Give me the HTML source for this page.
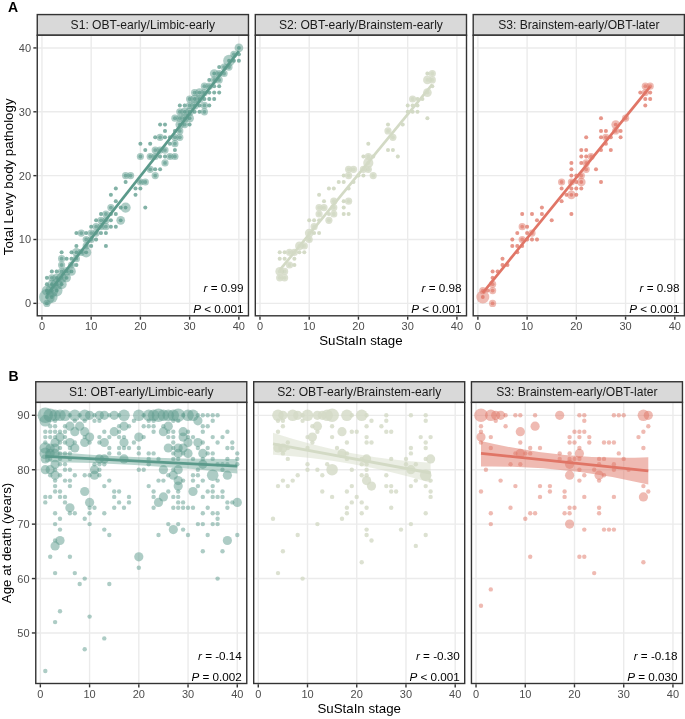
<!DOCTYPE html>
<html><head><meta charset="utf-8"><title>SuStaIn stage figure</title>
<style>html,body{margin:0;padding:0;background:#fff}svg{display:block;will-change:transform}text{font-family:'Liberation Sans', sans-serif}</style>
</head><body>
<svg width="685" height="719" viewBox="0 0 685 719">
<rect width="685" height="719" fill="#fff"/>
<defs>
<clipPath id="ca0"><rect x="37.26" y="35.24" width="211.20" height="280.56"/></clipPath>
<clipPath id="ca1"><rect x="255.30" y="35.24" width="211.20" height="280.56"/></clipPath>
<clipPath id="ca2"><rect x="473.20" y="35.24" width="211.20" height="280.56"/></clipPath>
<clipPath id="cb0"><rect x="35.77" y="402.40" width="211.00" height="281.10"/></clipPath>
<clipPath id="cb1"><rect x="253.70" y="402.40" width="211.00" height="281.10"/></clipPath>
<clipPath id="cb2"><rect x="471.45" y="402.40" width="211.00" height="281.10"/></clipPath>
</defs>
<rect x="37.26" y="14.57" width="211.20" height="20.67" fill="#d9d9d9" stroke="#333" stroke-width="1.4"/>
<text x="142.86" y="28.92" text-anchor="middle" font-size="12.1" fill="#1a1a1a">S1: OBT-early/Limbic-early</text>
<rect x="37.26" y="35.24" width="211.20" height="280.56" fill="#fff"/>
<line x1="41.94" x2="41.94" y1="35.24" y2="315.80" stroke="#ebebeb" stroke-width="1.4"/>
<line x1="91.17" x2="91.17" y1="35.24" y2="315.80" stroke="#ebebeb" stroke-width="1.4"/>
<line x1="140.40" x2="140.40" y1="35.24" y2="315.80" stroke="#ebebeb" stroke-width="1.4"/>
<line x1="189.63" x2="189.63" y1="35.24" y2="315.80" stroke="#ebebeb" stroke-width="1.4"/>
<line x1="238.86" x2="238.86" y1="35.24" y2="315.80" stroke="#ebebeb" stroke-width="1.4"/>
<line x1="37.26" x2="248.46" y1="303.36" y2="303.36" stroke="#ebebeb" stroke-width="1.4"/>
<line x1="37.26" x2="248.46" y1="239.50" y2="239.50" stroke="#ebebeb" stroke-width="1.4"/>
<line x1="37.26" x2="248.46" y1="175.65" y2="175.65" stroke="#ebebeb" stroke-width="1.4"/>
<line x1="37.26" x2="248.46" y1="111.79" y2="111.79" stroke="#ebebeb" stroke-width="1.4"/>
<line x1="37.26" x2="248.46" y1="47.93" y2="47.93" stroke="#ebebeb" stroke-width="1.4"/>
<g clip-path="url(#ca0)">
<circle cx="46.9" cy="303.4" r="3.60" fill="#5b9a8b" fill-opacity="0.5"/>
<circle cx="46.9" cy="303.4" r="1.9" fill="#5b9a8b" fill-opacity="0.64"/>
<circle cx="46.9" cy="297.0" r="7.90" fill="#5b9a8b" fill-opacity="0.5"/>
<circle cx="46.9" cy="297.0" r="1.9" fill="#5b9a8b" fill-opacity="0.80"/>
<circle cx="46.9" cy="290.6" r="5.10" fill="#5b9a8b" fill-opacity="0.5"/>
<circle cx="46.9" cy="290.6" r="1.9" fill="#5b9a8b" fill-opacity="0.80"/>
<circle cx="46.9" cy="284.2" r="2.00" fill="#5b9a8b" fill-opacity="0.5"/>
<circle cx="46.9" cy="284.2" r="1.9" fill="#5b9a8b" fill-opacity="0.52"/>
<circle cx="46.9" cy="277.8" r="2.00" fill="#5b9a8b" fill-opacity="0.5"/>
<circle cx="46.9" cy="277.8" r="1.9" fill="#5b9a8b" fill-opacity="0.52"/>
<circle cx="51.8" cy="297.0" r="5.85" fill="#5b9a8b" fill-opacity="0.5"/>
<circle cx="51.8" cy="297.0" r="1.9" fill="#5b9a8b" fill-opacity="0.80"/>
<circle cx="51.8" cy="290.6" r="6.50" fill="#5b9a8b" fill-opacity="0.5"/>
<circle cx="51.8" cy="290.6" r="1.9" fill="#5b9a8b" fill-opacity="0.80"/>
<circle cx="51.8" cy="284.2" r="4.35" fill="#5b9a8b" fill-opacity="0.5"/>
<circle cx="51.8" cy="284.2" r="1.9" fill="#5b9a8b" fill-opacity="0.76"/>
<circle cx="51.8" cy="277.8" r="3.60" fill="#5b9a8b" fill-opacity="0.5"/>
<circle cx="51.8" cy="277.8" r="1.9" fill="#5b9a8b" fill-opacity="0.64"/>
<circle cx="51.8" cy="271.4" r="2.00" fill="#5b9a8b" fill-opacity="0.5"/>
<circle cx="51.8" cy="271.4" r="1.9" fill="#5b9a8b" fill-opacity="0.52"/>
<circle cx="56.7" cy="290.6" r="5.85" fill="#5b9a8b" fill-opacity="0.5"/>
<circle cx="56.7" cy="290.6" r="1.9" fill="#5b9a8b" fill-opacity="0.80"/>
<circle cx="56.7" cy="284.2" r="5.85" fill="#5b9a8b" fill-opacity="0.5"/>
<circle cx="56.7" cy="284.2" r="1.9" fill="#5b9a8b" fill-opacity="0.80"/>
<circle cx="56.7" cy="277.8" r="4.35" fill="#5b9a8b" fill-opacity="0.5"/>
<circle cx="56.7" cy="277.8" r="1.9" fill="#5b9a8b" fill-opacity="0.76"/>
<circle cx="56.7" cy="271.4" r="2.00" fill="#5b9a8b" fill-opacity="0.5"/>
<circle cx="56.7" cy="271.4" r="1.9" fill="#5b9a8b" fill-opacity="0.52"/>
<circle cx="61.6" cy="284.2" r="5.10" fill="#5b9a8b" fill-opacity="0.5"/>
<circle cx="61.6" cy="284.2" r="1.9" fill="#5b9a8b" fill-opacity="0.80"/>
<circle cx="61.6" cy="277.8" r="5.10" fill="#5b9a8b" fill-opacity="0.5"/>
<circle cx="61.6" cy="277.8" r="1.9" fill="#5b9a8b" fill-opacity="0.80"/>
<circle cx="61.6" cy="271.4" r="3.60" fill="#5b9a8b" fill-opacity="0.5"/>
<circle cx="61.6" cy="271.4" r="1.9" fill="#5b9a8b" fill-opacity="0.64"/>
<circle cx="61.6" cy="265.0" r="3.60" fill="#5b9a8b" fill-opacity="0.5"/>
<circle cx="61.6" cy="265.0" r="1.9" fill="#5b9a8b" fill-opacity="0.64"/>
<circle cx="61.6" cy="258.7" r="3.60" fill="#5b9a8b" fill-opacity="0.5"/>
<circle cx="61.6" cy="258.7" r="1.9" fill="#5b9a8b" fill-opacity="0.64"/>
<circle cx="61.6" cy="252.3" r="2.00" fill="#5b9a8b" fill-opacity="0.5"/>
<circle cx="61.6" cy="252.3" r="1.9" fill="#5b9a8b" fill-opacity="0.52"/>
<circle cx="66.6" cy="277.8" r="4.35" fill="#5b9a8b" fill-opacity="0.5"/>
<circle cx="66.6" cy="277.8" r="1.9" fill="#5b9a8b" fill-opacity="0.76"/>
<circle cx="66.6" cy="271.4" r="4.35" fill="#5b9a8b" fill-opacity="0.5"/>
<circle cx="66.6" cy="271.4" r="1.9" fill="#5b9a8b" fill-opacity="0.76"/>
<circle cx="66.6" cy="258.7" r="2.00" fill="#5b9a8b" fill-opacity="0.5"/>
<circle cx="66.6" cy="258.7" r="1.9" fill="#5b9a8b" fill-opacity="0.52"/>
<circle cx="71.5" cy="271.4" r="4.35" fill="#5b9a8b" fill-opacity="0.5"/>
<circle cx="71.5" cy="271.4" r="1.9" fill="#5b9a8b" fill-opacity="0.76"/>
<circle cx="71.5" cy="265.0" r="3.60" fill="#5b9a8b" fill-opacity="0.5"/>
<circle cx="71.5" cy="265.0" r="1.9" fill="#5b9a8b" fill-opacity="0.64"/>
<circle cx="71.5" cy="258.7" r="2.00" fill="#5b9a8b" fill-opacity="0.5"/>
<circle cx="71.5" cy="258.7" r="1.9" fill="#5b9a8b" fill-opacity="0.52"/>
<circle cx="71.5" cy="252.3" r="2.00" fill="#5b9a8b" fill-opacity="0.5"/>
<circle cx="71.5" cy="252.3" r="1.9" fill="#5b9a8b" fill-opacity="0.52"/>
<circle cx="76.4" cy="265.0" r="2.00" fill="#5b9a8b" fill-opacity="0.5"/>
<circle cx="76.4" cy="265.0" r="1.9" fill="#5b9a8b" fill-opacity="0.52"/>
<circle cx="76.4" cy="258.7" r="3.60" fill="#5b9a8b" fill-opacity="0.5"/>
<circle cx="76.4" cy="258.7" r="1.9" fill="#5b9a8b" fill-opacity="0.64"/>
<circle cx="76.4" cy="252.3" r="4.35" fill="#5b9a8b" fill-opacity="0.5"/>
<circle cx="76.4" cy="252.3" r="1.9" fill="#5b9a8b" fill-opacity="0.76"/>
<circle cx="76.4" cy="245.9" r="2.00" fill="#5b9a8b" fill-opacity="0.5"/>
<circle cx="76.4" cy="245.9" r="1.9" fill="#5b9a8b" fill-opacity="0.52"/>
<circle cx="76.4" cy="233.1" r="2.00" fill="#5b9a8b" fill-opacity="0.5"/>
<circle cx="76.4" cy="233.1" r="1.9" fill="#5b9a8b" fill-opacity="0.52"/>
<circle cx="81.3" cy="252.3" r="3.60" fill="#5b9a8b" fill-opacity="0.5"/>
<circle cx="81.3" cy="252.3" r="1.9" fill="#5b9a8b" fill-opacity="0.64"/>
<circle cx="81.3" cy="233.1" r="3.60" fill="#5b9a8b" fill-opacity="0.5"/>
<circle cx="81.3" cy="233.1" r="1.9" fill="#5b9a8b" fill-opacity="0.64"/>
<circle cx="86.2" cy="252.3" r="5.10" fill="#5b9a8b" fill-opacity="0.5"/>
<circle cx="86.2" cy="252.3" r="1.9" fill="#5b9a8b" fill-opacity="0.80"/>
<circle cx="86.2" cy="245.9" r="3.60" fill="#5b9a8b" fill-opacity="0.5"/>
<circle cx="86.2" cy="245.9" r="1.9" fill="#5b9a8b" fill-opacity="0.64"/>
<circle cx="86.2" cy="239.5" r="3.60" fill="#5b9a8b" fill-opacity="0.5"/>
<circle cx="86.2" cy="239.5" r="1.9" fill="#5b9a8b" fill-opacity="0.64"/>
<circle cx="86.2" cy="233.1" r="2.00" fill="#5b9a8b" fill-opacity="0.5"/>
<circle cx="86.2" cy="233.1" r="1.9" fill="#5b9a8b" fill-opacity="0.52"/>
<circle cx="91.2" cy="245.9" r="2.00" fill="#5b9a8b" fill-opacity="0.5"/>
<circle cx="91.2" cy="245.9" r="1.9" fill="#5b9a8b" fill-opacity="0.52"/>
<circle cx="91.2" cy="239.5" r="3.60" fill="#5b9a8b" fill-opacity="0.5"/>
<circle cx="91.2" cy="239.5" r="1.9" fill="#5b9a8b" fill-opacity="0.64"/>
<circle cx="91.2" cy="233.1" r="3.60" fill="#5b9a8b" fill-opacity="0.5"/>
<circle cx="91.2" cy="233.1" r="1.9" fill="#5b9a8b" fill-opacity="0.64"/>
<circle cx="91.2" cy="226.7" r="2.00" fill="#5b9a8b" fill-opacity="0.5"/>
<circle cx="91.2" cy="226.7" r="1.9" fill="#5b9a8b" fill-opacity="0.52"/>
<circle cx="96.1" cy="239.5" r="2.00" fill="#5b9a8b" fill-opacity="0.5"/>
<circle cx="96.1" cy="239.5" r="1.9" fill="#5b9a8b" fill-opacity="0.52"/>
<circle cx="96.1" cy="233.1" r="3.60" fill="#5b9a8b" fill-opacity="0.5"/>
<circle cx="96.1" cy="233.1" r="1.9" fill="#5b9a8b" fill-opacity="0.64"/>
<circle cx="96.1" cy="226.7" r="3.60" fill="#5b9a8b" fill-opacity="0.5"/>
<circle cx="96.1" cy="226.7" r="1.9" fill="#5b9a8b" fill-opacity="0.64"/>
<circle cx="96.1" cy="220.3" r="2.00" fill="#5b9a8b" fill-opacity="0.5"/>
<circle cx="96.1" cy="220.3" r="1.9" fill="#5b9a8b" fill-opacity="0.52"/>
<circle cx="101.0" cy="233.1" r="2.00" fill="#5b9a8b" fill-opacity="0.5"/>
<circle cx="101.0" cy="233.1" r="1.9" fill="#5b9a8b" fill-opacity="0.52"/>
<circle cx="101.0" cy="226.7" r="3.60" fill="#5b9a8b" fill-opacity="0.5"/>
<circle cx="101.0" cy="226.7" r="1.9" fill="#5b9a8b" fill-opacity="0.64"/>
<circle cx="101.0" cy="220.3" r="3.60" fill="#5b9a8b" fill-opacity="0.5"/>
<circle cx="101.0" cy="220.3" r="1.9" fill="#5b9a8b" fill-opacity="0.64"/>
<circle cx="101.0" cy="214.0" r="2.00" fill="#5b9a8b" fill-opacity="0.5"/>
<circle cx="101.0" cy="214.0" r="1.9" fill="#5b9a8b" fill-opacity="0.52"/>
<circle cx="105.9" cy="245.9" r="2.00" fill="#5b9a8b" fill-opacity="0.5"/>
<circle cx="105.9" cy="245.9" r="1.9" fill="#5b9a8b" fill-opacity="0.52"/>
<circle cx="105.9" cy="233.1" r="2.00" fill="#5b9a8b" fill-opacity="0.5"/>
<circle cx="105.9" cy="233.1" r="1.9" fill="#5b9a8b" fill-opacity="0.52"/>
<circle cx="105.9" cy="226.7" r="3.60" fill="#5b9a8b" fill-opacity="0.5"/>
<circle cx="105.9" cy="226.7" r="1.9" fill="#5b9a8b" fill-opacity="0.64"/>
<circle cx="105.9" cy="220.3" r="3.60" fill="#5b9a8b" fill-opacity="0.5"/>
<circle cx="105.9" cy="220.3" r="1.9" fill="#5b9a8b" fill-opacity="0.64"/>
<circle cx="105.9" cy="214.0" r="3.60" fill="#5b9a8b" fill-opacity="0.5"/>
<circle cx="105.9" cy="214.0" r="1.9" fill="#5b9a8b" fill-opacity="0.64"/>
<circle cx="110.9" cy="226.7" r="2.00" fill="#5b9a8b" fill-opacity="0.5"/>
<circle cx="110.9" cy="226.7" r="1.9" fill="#5b9a8b" fill-opacity="0.52"/>
<circle cx="110.9" cy="220.3" r="2.00" fill="#5b9a8b" fill-opacity="0.5"/>
<circle cx="110.9" cy="220.3" r="1.9" fill="#5b9a8b" fill-opacity="0.52"/>
<circle cx="110.9" cy="214.0" r="2.00" fill="#5b9a8b" fill-opacity="0.5"/>
<circle cx="110.9" cy="214.0" r="1.9" fill="#5b9a8b" fill-opacity="0.52"/>
<circle cx="110.9" cy="207.6" r="3.60" fill="#5b9a8b" fill-opacity="0.5"/>
<circle cx="110.9" cy="207.6" r="1.9" fill="#5b9a8b" fill-opacity="0.64"/>
<circle cx="110.9" cy="194.8" r="2.00" fill="#5b9a8b" fill-opacity="0.5"/>
<circle cx="110.9" cy="194.8" r="1.9" fill="#5b9a8b" fill-opacity="0.52"/>
<circle cx="115.8" cy="226.7" r="2.00" fill="#5b9a8b" fill-opacity="0.5"/>
<circle cx="115.8" cy="226.7" r="1.9" fill="#5b9a8b" fill-opacity="0.52"/>
<circle cx="115.8" cy="214.0" r="2.00" fill="#5b9a8b" fill-opacity="0.5"/>
<circle cx="115.8" cy="214.0" r="1.9" fill="#5b9a8b" fill-opacity="0.52"/>
<circle cx="115.8" cy="201.2" r="2.00" fill="#5b9a8b" fill-opacity="0.5"/>
<circle cx="115.8" cy="201.2" r="1.9" fill="#5b9a8b" fill-opacity="0.52"/>
<circle cx="115.8" cy="188.4" r="2.00" fill="#5b9a8b" fill-opacity="0.5"/>
<circle cx="115.8" cy="188.4" r="1.9" fill="#5b9a8b" fill-opacity="0.52"/>
<circle cx="120.7" cy="220.3" r="4.35" fill="#5b9a8b" fill-opacity="0.5"/>
<circle cx="120.7" cy="220.3" r="1.9" fill="#5b9a8b" fill-opacity="0.76"/>
<circle cx="120.7" cy="207.6" r="2.00" fill="#5b9a8b" fill-opacity="0.5"/>
<circle cx="120.7" cy="207.6" r="1.9" fill="#5b9a8b" fill-opacity="0.52"/>
<circle cx="125.6" cy="207.6" r="5.10" fill="#5b9a8b" fill-opacity="0.5"/>
<circle cx="125.6" cy="207.6" r="1.9" fill="#5b9a8b" fill-opacity="0.80"/>
<circle cx="125.6" cy="182.0" r="2.00" fill="#5b9a8b" fill-opacity="0.5"/>
<circle cx="125.6" cy="182.0" r="1.9" fill="#5b9a8b" fill-opacity="0.52"/>
<circle cx="125.6" cy="175.6" r="3.60" fill="#5b9a8b" fill-opacity="0.5"/>
<circle cx="125.6" cy="175.6" r="1.9" fill="#5b9a8b" fill-opacity="0.64"/>
<circle cx="130.6" cy="175.6" r="3.60" fill="#5b9a8b" fill-opacity="0.5"/>
<circle cx="130.6" cy="175.6" r="1.9" fill="#5b9a8b" fill-opacity="0.64"/>
<circle cx="135.5" cy="194.8" r="2.00" fill="#5b9a8b" fill-opacity="0.5"/>
<circle cx="135.5" cy="194.8" r="1.9" fill="#5b9a8b" fill-opacity="0.52"/>
<circle cx="135.5" cy="188.4" r="2.00" fill="#5b9a8b" fill-opacity="0.5"/>
<circle cx="135.5" cy="188.4" r="1.9" fill="#5b9a8b" fill-opacity="0.52"/>
<circle cx="140.4" cy="188.4" r="2.00" fill="#5b9a8b" fill-opacity="0.5"/>
<circle cx="140.4" cy="188.4" r="1.9" fill="#5b9a8b" fill-opacity="0.52"/>
<circle cx="140.4" cy="182.0" r="3.60" fill="#5b9a8b" fill-opacity="0.5"/>
<circle cx="140.4" cy="182.0" r="1.9" fill="#5b9a8b" fill-opacity="0.64"/>
<circle cx="140.4" cy="156.5" r="3.60" fill="#5b9a8b" fill-opacity="0.5"/>
<circle cx="140.4" cy="156.5" r="1.9" fill="#5b9a8b" fill-opacity="0.64"/>
<circle cx="140.4" cy="143.7" r="2.00" fill="#5b9a8b" fill-opacity="0.5"/>
<circle cx="140.4" cy="143.7" r="1.9" fill="#5b9a8b" fill-opacity="0.52"/>
<circle cx="145.3" cy="207.6" r="2.00" fill="#5b9a8b" fill-opacity="0.5"/>
<circle cx="145.3" cy="207.6" r="1.9" fill="#5b9a8b" fill-opacity="0.52"/>
<circle cx="145.3" cy="182.0" r="3.60" fill="#5b9a8b" fill-opacity="0.5"/>
<circle cx="145.3" cy="182.0" r="1.9" fill="#5b9a8b" fill-opacity="0.64"/>
<circle cx="145.3" cy="150.1" r="2.00" fill="#5b9a8b" fill-opacity="0.5"/>
<circle cx="145.3" cy="150.1" r="1.9" fill="#5b9a8b" fill-opacity="0.52"/>
<circle cx="150.2" cy="169.3" r="3.60" fill="#5b9a8b" fill-opacity="0.5"/>
<circle cx="150.2" cy="169.3" r="1.9" fill="#5b9a8b" fill-opacity="0.64"/>
<circle cx="150.2" cy="156.5" r="3.60" fill="#5b9a8b" fill-opacity="0.5"/>
<circle cx="150.2" cy="156.5" r="1.9" fill="#5b9a8b" fill-opacity="0.64"/>
<circle cx="150.2" cy="143.7" r="2.00" fill="#5b9a8b" fill-opacity="0.5"/>
<circle cx="150.2" cy="143.7" r="1.9" fill="#5b9a8b" fill-opacity="0.52"/>
<circle cx="155.2" cy="175.6" r="3.60" fill="#5b9a8b" fill-opacity="0.5"/>
<circle cx="155.2" cy="175.6" r="1.9" fill="#5b9a8b" fill-opacity="0.64"/>
<circle cx="155.2" cy="169.3" r="2.00" fill="#5b9a8b" fill-opacity="0.5"/>
<circle cx="155.2" cy="169.3" r="1.9" fill="#5b9a8b" fill-opacity="0.52"/>
<circle cx="155.2" cy="156.5" r="3.60" fill="#5b9a8b" fill-opacity="0.5"/>
<circle cx="155.2" cy="156.5" r="1.9" fill="#5b9a8b" fill-opacity="0.64"/>
<circle cx="155.2" cy="150.1" r="3.60" fill="#5b9a8b" fill-opacity="0.5"/>
<circle cx="155.2" cy="150.1" r="1.9" fill="#5b9a8b" fill-opacity="0.64"/>
<circle cx="155.2" cy="137.3" r="2.00" fill="#5b9a8b" fill-opacity="0.5"/>
<circle cx="155.2" cy="137.3" r="1.9" fill="#5b9a8b" fill-opacity="0.52"/>
<circle cx="160.1" cy="169.3" r="2.00" fill="#5b9a8b" fill-opacity="0.5"/>
<circle cx="160.1" cy="169.3" r="1.9" fill="#5b9a8b" fill-opacity="0.52"/>
<circle cx="160.1" cy="156.5" r="2.00" fill="#5b9a8b" fill-opacity="0.5"/>
<circle cx="160.1" cy="156.5" r="1.9" fill="#5b9a8b" fill-opacity="0.52"/>
<circle cx="160.1" cy="150.1" r="3.60" fill="#5b9a8b" fill-opacity="0.5"/>
<circle cx="160.1" cy="150.1" r="1.9" fill="#5b9a8b" fill-opacity="0.64"/>
<circle cx="160.1" cy="137.3" r="3.60" fill="#5b9a8b" fill-opacity="0.5"/>
<circle cx="160.1" cy="137.3" r="1.9" fill="#5b9a8b" fill-opacity="0.64"/>
<circle cx="160.1" cy="124.6" r="2.00" fill="#5b9a8b" fill-opacity="0.5"/>
<circle cx="160.1" cy="124.6" r="1.9" fill="#5b9a8b" fill-opacity="0.52"/>
<circle cx="165.0" cy="162.9" r="3.60" fill="#5b9a8b" fill-opacity="0.5"/>
<circle cx="165.0" cy="162.9" r="1.9" fill="#5b9a8b" fill-opacity="0.64"/>
<circle cx="165.0" cy="156.5" r="2.00" fill="#5b9a8b" fill-opacity="0.5"/>
<circle cx="165.0" cy="156.5" r="1.9" fill="#5b9a8b" fill-opacity="0.52"/>
<circle cx="165.0" cy="150.1" r="3.60" fill="#5b9a8b" fill-opacity="0.5"/>
<circle cx="165.0" cy="150.1" r="1.9" fill="#5b9a8b" fill-opacity="0.64"/>
<circle cx="165.0" cy="137.3" r="2.00" fill="#5b9a8b" fill-opacity="0.5"/>
<circle cx="165.0" cy="137.3" r="1.9" fill="#5b9a8b" fill-opacity="0.52"/>
<circle cx="165.0" cy="130.9" r="2.00" fill="#5b9a8b" fill-opacity="0.5"/>
<circle cx="165.0" cy="130.9" r="1.9" fill="#5b9a8b" fill-opacity="0.52"/>
<circle cx="165.0" cy="124.6" r="2.00" fill="#5b9a8b" fill-opacity="0.5"/>
<circle cx="165.0" cy="124.6" r="1.9" fill="#5b9a8b" fill-opacity="0.52"/>
<circle cx="169.9" cy="156.5" r="3.60" fill="#5b9a8b" fill-opacity="0.5"/>
<circle cx="169.9" cy="156.5" r="1.9" fill="#5b9a8b" fill-opacity="0.64"/>
<circle cx="169.9" cy="143.7" r="2.00" fill="#5b9a8b" fill-opacity="0.5"/>
<circle cx="169.9" cy="143.7" r="1.9" fill="#5b9a8b" fill-opacity="0.52"/>
<circle cx="169.9" cy="137.3" r="2.00" fill="#5b9a8b" fill-opacity="0.5"/>
<circle cx="169.9" cy="137.3" r="1.9" fill="#5b9a8b" fill-opacity="0.52"/>
<circle cx="174.9" cy="156.5" r="3.60" fill="#5b9a8b" fill-opacity="0.5"/>
<circle cx="174.9" cy="156.5" r="1.9" fill="#5b9a8b" fill-opacity="0.64"/>
<circle cx="174.9" cy="150.1" r="2.00" fill="#5b9a8b" fill-opacity="0.5"/>
<circle cx="174.9" cy="150.1" r="1.9" fill="#5b9a8b" fill-opacity="0.52"/>
<circle cx="174.9" cy="143.7" r="3.60" fill="#5b9a8b" fill-opacity="0.5"/>
<circle cx="174.9" cy="143.7" r="1.9" fill="#5b9a8b" fill-opacity="0.64"/>
<circle cx="174.9" cy="137.3" r="3.60" fill="#5b9a8b" fill-opacity="0.5"/>
<circle cx="174.9" cy="137.3" r="1.9" fill="#5b9a8b" fill-opacity="0.64"/>
<circle cx="174.9" cy="130.9" r="2.00" fill="#5b9a8b" fill-opacity="0.5"/>
<circle cx="174.9" cy="130.9" r="1.9" fill="#5b9a8b" fill-opacity="0.52"/>
<circle cx="174.9" cy="118.2" r="3.60" fill="#5b9a8b" fill-opacity="0.5"/>
<circle cx="174.9" cy="118.2" r="1.9" fill="#5b9a8b" fill-opacity="0.64"/>
<circle cx="179.8" cy="137.3" r="3.60" fill="#5b9a8b" fill-opacity="0.5"/>
<circle cx="179.8" cy="137.3" r="1.9" fill="#5b9a8b" fill-opacity="0.64"/>
<circle cx="179.8" cy="130.9" r="3.60" fill="#5b9a8b" fill-opacity="0.5"/>
<circle cx="179.8" cy="130.9" r="1.9" fill="#5b9a8b" fill-opacity="0.64"/>
<circle cx="179.8" cy="124.6" r="4.35" fill="#5b9a8b" fill-opacity="0.5"/>
<circle cx="179.8" cy="124.6" r="1.9" fill="#5b9a8b" fill-opacity="0.76"/>
<circle cx="179.8" cy="118.2" r="3.60" fill="#5b9a8b" fill-opacity="0.5"/>
<circle cx="179.8" cy="118.2" r="1.9" fill="#5b9a8b" fill-opacity="0.64"/>
<circle cx="179.8" cy="111.8" r="3.60" fill="#5b9a8b" fill-opacity="0.5"/>
<circle cx="179.8" cy="111.8" r="1.9" fill="#5b9a8b" fill-opacity="0.64"/>
<circle cx="179.8" cy="105.4" r="2.00" fill="#5b9a8b" fill-opacity="0.5"/>
<circle cx="179.8" cy="105.4" r="1.9" fill="#5b9a8b" fill-opacity="0.52"/>
<circle cx="184.7" cy="124.6" r="3.60" fill="#5b9a8b" fill-opacity="0.5"/>
<circle cx="184.7" cy="124.6" r="1.9" fill="#5b9a8b" fill-opacity="0.64"/>
<circle cx="184.7" cy="118.2" r="4.35" fill="#5b9a8b" fill-opacity="0.5"/>
<circle cx="184.7" cy="118.2" r="1.9" fill="#5b9a8b" fill-opacity="0.76"/>
<circle cx="184.7" cy="111.8" r="4.35" fill="#5b9a8b" fill-opacity="0.5"/>
<circle cx="184.7" cy="111.8" r="1.9" fill="#5b9a8b" fill-opacity="0.76"/>
<circle cx="184.7" cy="105.4" r="2.00" fill="#5b9a8b" fill-opacity="0.5"/>
<circle cx="184.7" cy="105.4" r="1.9" fill="#5b9a8b" fill-opacity="0.52"/>
<circle cx="189.6" cy="124.6" r="2.00" fill="#5b9a8b" fill-opacity="0.5"/>
<circle cx="189.6" cy="124.6" r="1.9" fill="#5b9a8b" fill-opacity="0.52"/>
<circle cx="189.6" cy="118.2" r="4.35" fill="#5b9a8b" fill-opacity="0.5"/>
<circle cx="189.6" cy="118.2" r="1.9" fill="#5b9a8b" fill-opacity="0.76"/>
<circle cx="189.6" cy="111.8" r="4.35" fill="#5b9a8b" fill-opacity="0.5"/>
<circle cx="189.6" cy="111.8" r="1.9" fill="#5b9a8b" fill-opacity="0.76"/>
<circle cx="189.6" cy="105.4" r="3.60" fill="#5b9a8b" fill-opacity="0.5"/>
<circle cx="189.6" cy="105.4" r="1.9" fill="#5b9a8b" fill-opacity="0.64"/>
<circle cx="189.6" cy="99.0" r="3.60" fill="#5b9a8b" fill-opacity="0.5"/>
<circle cx="189.6" cy="99.0" r="1.9" fill="#5b9a8b" fill-opacity="0.64"/>
<circle cx="194.6" cy="111.8" r="2.00" fill="#5b9a8b" fill-opacity="0.5"/>
<circle cx="194.6" cy="111.8" r="1.9" fill="#5b9a8b" fill-opacity="0.52"/>
<circle cx="194.6" cy="105.4" r="4.35" fill="#5b9a8b" fill-opacity="0.5"/>
<circle cx="194.6" cy="105.4" r="1.9" fill="#5b9a8b" fill-opacity="0.76"/>
<circle cx="194.6" cy="99.0" r="4.35" fill="#5b9a8b" fill-opacity="0.5"/>
<circle cx="194.6" cy="99.0" r="1.9" fill="#5b9a8b" fill-opacity="0.76"/>
<circle cx="194.6" cy="92.6" r="3.60" fill="#5b9a8b" fill-opacity="0.5"/>
<circle cx="194.6" cy="92.6" r="1.9" fill="#5b9a8b" fill-opacity="0.64"/>
<circle cx="199.5" cy="111.8" r="2.00" fill="#5b9a8b" fill-opacity="0.5"/>
<circle cx="199.5" cy="111.8" r="1.9" fill="#5b9a8b" fill-opacity="0.52"/>
<circle cx="199.5" cy="105.4" r="2.00" fill="#5b9a8b" fill-opacity="0.5"/>
<circle cx="199.5" cy="105.4" r="1.9" fill="#5b9a8b" fill-opacity="0.52"/>
<circle cx="199.5" cy="99.0" r="4.35" fill="#5b9a8b" fill-opacity="0.5"/>
<circle cx="199.5" cy="99.0" r="1.9" fill="#5b9a8b" fill-opacity="0.76"/>
<circle cx="199.5" cy="92.6" r="4.35" fill="#5b9a8b" fill-opacity="0.5"/>
<circle cx="199.5" cy="92.6" r="1.9" fill="#5b9a8b" fill-opacity="0.76"/>
<circle cx="204.4" cy="111.8" r="3.60" fill="#5b9a8b" fill-opacity="0.5"/>
<circle cx="204.4" cy="111.8" r="1.9" fill="#5b9a8b" fill-opacity="0.64"/>
<circle cx="204.4" cy="105.4" r="3.60" fill="#5b9a8b" fill-opacity="0.5"/>
<circle cx="204.4" cy="105.4" r="1.9" fill="#5b9a8b" fill-opacity="0.64"/>
<circle cx="204.4" cy="99.0" r="2.00" fill="#5b9a8b" fill-opacity="0.5"/>
<circle cx="204.4" cy="99.0" r="1.9" fill="#5b9a8b" fill-opacity="0.52"/>
<circle cx="204.4" cy="92.6" r="3.60" fill="#5b9a8b" fill-opacity="0.5"/>
<circle cx="204.4" cy="92.6" r="1.9" fill="#5b9a8b" fill-opacity="0.64"/>
<circle cx="204.4" cy="86.2" r="3.60" fill="#5b9a8b" fill-opacity="0.5"/>
<circle cx="204.4" cy="86.2" r="1.9" fill="#5b9a8b" fill-opacity="0.64"/>
<circle cx="209.3" cy="105.4" r="2.00" fill="#5b9a8b" fill-opacity="0.5"/>
<circle cx="209.3" cy="105.4" r="1.9" fill="#5b9a8b" fill-opacity="0.52"/>
<circle cx="209.3" cy="99.0" r="2.00" fill="#5b9a8b" fill-opacity="0.5"/>
<circle cx="209.3" cy="99.0" r="1.9" fill="#5b9a8b" fill-opacity="0.52"/>
<circle cx="209.3" cy="92.6" r="2.00" fill="#5b9a8b" fill-opacity="0.5"/>
<circle cx="209.3" cy="92.6" r="1.9" fill="#5b9a8b" fill-opacity="0.52"/>
<circle cx="209.3" cy="86.2" r="3.60" fill="#5b9a8b" fill-opacity="0.5"/>
<circle cx="209.3" cy="86.2" r="1.9" fill="#5b9a8b" fill-opacity="0.64"/>
<circle cx="209.3" cy="79.9" r="2.00" fill="#5b9a8b" fill-opacity="0.5"/>
<circle cx="209.3" cy="79.9" r="1.9" fill="#5b9a8b" fill-opacity="0.52"/>
<circle cx="214.2" cy="99.0" r="2.00" fill="#5b9a8b" fill-opacity="0.5"/>
<circle cx="214.2" cy="99.0" r="1.9" fill="#5b9a8b" fill-opacity="0.52"/>
<circle cx="214.2" cy="92.6" r="2.00" fill="#5b9a8b" fill-opacity="0.5"/>
<circle cx="214.2" cy="92.6" r="1.9" fill="#5b9a8b" fill-opacity="0.52"/>
<circle cx="214.2" cy="86.2" r="2.00" fill="#5b9a8b" fill-opacity="0.5"/>
<circle cx="214.2" cy="86.2" r="1.9" fill="#5b9a8b" fill-opacity="0.52"/>
<circle cx="214.2" cy="79.9" r="3.60" fill="#5b9a8b" fill-opacity="0.5"/>
<circle cx="214.2" cy="79.9" r="1.9" fill="#5b9a8b" fill-opacity="0.64"/>
<circle cx="214.2" cy="73.5" r="4.35" fill="#5b9a8b" fill-opacity="0.5"/>
<circle cx="214.2" cy="73.5" r="1.9" fill="#5b9a8b" fill-opacity="0.76"/>
<circle cx="219.2" cy="92.6" r="2.00" fill="#5b9a8b" fill-opacity="0.5"/>
<circle cx="219.2" cy="92.6" r="1.9" fill="#5b9a8b" fill-opacity="0.52"/>
<circle cx="219.2" cy="86.2" r="2.00" fill="#5b9a8b" fill-opacity="0.5"/>
<circle cx="219.2" cy="86.2" r="1.9" fill="#5b9a8b" fill-opacity="0.52"/>
<circle cx="219.2" cy="79.9" r="3.60" fill="#5b9a8b" fill-opacity="0.5"/>
<circle cx="219.2" cy="79.9" r="1.9" fill="#5b9a8b" fill-opacity="0.64"/>
<circle cx="219.2" cy="73.5" r="3.60" fill="#5b9a8b" fill-opacity="0.5"/>
<circle cx="219.2" cy="73.5" r="1.9" fill="#5b9a8b" fill-opacity="0.64"/>
<circle cx="219.2" cy="67.1" r="2.00" fill="#5b9a8b" fill-opacity="0.5"/>
<circle cx="219.2" cy="67.1" r="1.9" fill="#5b9a8b" fill-opacity="0.52"/>
<circle cx="224.1" cy="73.5" r="3.60" fill="#5b9a8b" fill-opacity="0.5"/>
<circle cx="224.1" cy="73.5" r="1.9" fill="#5b9a8b" fill-opacity="0.64"/>
<circle cx="224.1" cy="67.1" r="3.60" fill="#5b9a8b" fill-opacity="0.5"/>
<circle cx="224.1" cy="67.1" r="1.9" fill="#5b9a8b" fill-opacity="0.64"/>
<circle cx="229.0" cy="67.1" r="3.60" fill="#5b9a8b" fill-opacity="0.5"/>
<circle cx="229.0" cy="67.1" r="1.9" fill="#5b9a8b" fill-opacity="0.64"/>
<circle cx="229.0" cy="60.7" r="5.85" fill="#5b9a8b" fill-opacity="0.5"/>
<circle cx="229.0" cy="60.7" r="1.9" fill="#5b9a8b" fill-opacity="0.80"/>
<circle cx="233.9" cy="60.7" r="2.00" fill="#5b9a8b" fill-opacity="0.5"/>
<circle cx="233.9" cy="60.7" r="1.9" fill="#5b9a8b" fill-opacity="0.52"/>
<circle cx="233.9" cy="54.3" r="3.60" fill="#5b9a8b" fill-opacity="0.5"/>
<circle cx="233.9" cy="54.3" r="1.9" fill="#5b9a8b" fill-opacity="0.64"/>
<circle cx="238.9" cy="60.7" r="2.00" fill="#5b9a8b" fill-opacity="0.5"/>
<circle cx="238.9" cy="60.7" r="1.9" fill="#5b9a8b" fill-opacity="0.52"/>
<circle cx="238.9" cy="54.3" r="2.00" fill="#5b9a8b" fill-opacity="0.5"/>
<circle cx="238.9" cy="54.3" r="1.9" fill="#5b9a8b" fill-opacity="0.52"/>
<circle cx="238.9" cy="47.9" r="4.35" fill="#5b9a8b" fill-opacity="0.5"/>
<circle cx="238.9" cy="47.9" r="1.9" fill="#5b9a8b" fill-opacity="0.76"/>
<line x1="46.9" y1="294.7" x2="238.9" y2="51.1" stroke="#5b9a8b" stroke-width="2.7"/>
</g>
<text x="243.56" y="292.00" text-anchor="end" font-size="11.7" fill="#000"><tspan font-style="italic">r</tspan> = 0.99</text>
<text x="243.56" y="313.20" text-anchor="end" font-size="11.7" fill="#000"><tspan font-style="italic">P</tspan> &lt; 0.001</text>
<rect x="37.26" y="35.24" width="211.20" height="280.56" fill="none" stroke="#333" stroke-width="1.4"/>
<line x1="41.94" x2="41.94" y1="316.50" y2="319.70" stroke="#333" stroke-width="1.4"/>
<text x="41.94" y="330.10" text-anchor="middle" font-size="11" fill="#4d4d4d">0</text>
<line x1="91.17" x2="91.17" y1="316.50" y2="319.70" stroke="#333" stroke-width="1.4"/>
<text x="91.17" y="330.10" text-anchor="middle" font-size="11" fill="#4d4d4d">10</text>
<line x1="140.40" x2="140.40" y1="316.50" y2="319.70" stroke="#333" stroke-width="1.4"/>
<text x="140.40" y="330.10" text-anchor="middle" font-size="11" fill="#4d4d4d">20</text>
<line x1="189.63" x2="189.63" y1="316.50" y2="319.70" stroke="#333" stroke-width="1.4"/>
<text x="189.63" y="330.10" text-anchor="middle" font-size="11" fill="#4d4d4d">30</text>
<line x1="238.86" x2="238.86" y1="316.50" y2="319.70" stroke="#333" stroke-width="1.4"/>
<text x="238.86" y="330.10" text-anchor="middle" font-size="11" fill="#4d4d4d">40</text>
<line x1="33.36" x2="36.56" y1="303.36" y2="303.36" stroke="#333" stroke-width="1.4"/>
<text x="31.06" y="307.31" text-anchor="end" font-size="11" fill="#4d4d4d">0</text>
<line x1="33.36" x2="36.56" y1="239.50" y2="239.50" stroke="#333" stroke-width="1.4"/>
<text x="31.06" y="243.45" text-anchor="end" font-size="11" fill="#4d4d4d">10</text>
<line x1="33.36" x2="36.56" y1="175.65" y2="175.65" stroke="#333" stroke-width="1.4"/>
<text x="31.06" y="179.59" text-anchor="end" font-size="11" fill="#4d4d4d">20</text>
<line x1="33.36" x2="36.56" y1="111.79" y2="111.79" stroke="#333" stroke-width="1.4"/>
<text x="31.06" y="115.74" text-anchor="end" font-size="11" fill="#4d4d4d">30</text>
<line x1="33.36" x2="36.56" y1="47.93" y2="47.93" stroke="#333" stroke-width="1.4"/>
<text x="31.06" y="51.88" text-anchor="end" font-size="11" fill="#4d4d4d">40</text>
<rect x="255.30" y="14.57" width="211.20" height="20.67" fill="#d9d9d9" stroke="#333" stroke-width="1.4"/>
<text x="360.90" y="28.92" text-anchor="middle" font-size="12.1" fill="#1a1a1a">S2: OBT-early/Brainstem-early</text>
<rect x="255.30" y="35.24" width="211.20" height="280.56" fill="#fff"/>
<line x1="259.98" x2="259.98" y1="35.24" y2="315.80" stroke="#ebebeb" stroke-width="1.4"/>
<line x1="309.21" x2="309.21" y1="35.24" y2="315.80" stroke="#ebebeb" stroke-width="1.4"/>
<line x1="358.44" x2="358.44" y1="35.24" y2="315.80" stroke="#ebebeb" stroke-width="1.4"/>
<line x1="407.67" x2="407.67" y1="35.24" y2="315.80" stroke="#ebebeb" stroke-width="1.4"/>
<line x1="456.90" x2="456.90" y1="35.24" y2="315.80" stroke="#ebebeb" stroke-width="1.4"/>
<line x1="255.30" x2="466.50" y1="303.36" y2="303.36" stroke="#ebebeb" stroke-width="1.4"/>
<line x1="255.30" x2="466.50" y1="239.50" y2="239.50" stroke="#ebebeb" stroke-width="1.4"/>
<line x1="255.30" x2="466.50" y1="175.65" y2="175.65" stroke="#ebebeb" stroke-width="1.4"/>
<line x1="255.30" x2="466.50" y1="111.79" y2="111.79" stroke="#ebebeb" stroke-width="1.4"/>
<line x1="255.30" x2="466.50" y1="47.93" y2="47.93" stroke="#ebebeb" stroke-width="1.4"/>
<g clip-path="url(#ca1)">
<circle cx="279.7" cy="277.8" r="3.60" fill="#d3dac5" fill-opacity="0.8"/>
<circle cx="279.7" cy="277.8" r="1.9" fill="#c6d0b4" fill-opacity="0.35"/>
<circle cx="284.6" cy="277.8" r="3.60" fill="#d3dac5" fill-opacity="0.8"/>
<circle cx="284.6" cy="277.8" r="1.9" fill="#c6d0b4" fill-opacity="0.35"/>
<circle cx="279.7" cy="271.4" r="4.35" fill="#d3dac5" fill-opacity="0.8"/>
<circle cx="279.7" cy="271.4" r="1.9" fill="#c6d0b4" fill-opacity="0.35"/>
<circle cx="284.6" cy="271.4" r="3.60" fill="#d3dac5" fill-opacity="0.8"/>
<circle cx="284.6" cy="271.4" r="1.9" fill="#c6d0b4" fill-opacity="0.35"/>
<circle cx="289.5" cy="265.0" r="3.60" fill="#d3dac5" fill-opacity="0.8"/>
<circle cx="289.5" cy="265.0" r="1.9" fill="#c6d0b4" fill-opacity="0.35"/>
<circle cx="294.4" cy="265.0" r="2.00" fill="#d3dac5" fill-opacity="0.8"/>
<circle cx="294.4" cy="265.0" r="1.9" fill="#c6d0b4" fill-opacity="0.35"/>
<circle cx="279.7" cy="258.7" r="2.00" fill="#d3dac5" fill-opacity="0.8"/>
<circle cx="279.7" cy="258.7" r="1.9" fill="#c6d0b4" fill-opacity="0.35"/>
<circle cx="284.6" cy="258.7" r="2.00" fill="#d3dac5" fill-opacity="0.8"/>
<circle cx="284.6" cy="258.7" r="1.9" fill="#c6d0b4" fill-opacity="0.35"/>
<circle cx="294.4" cy="258.7" r="2.00" fill="#d3dac5" fill-opacity="0.8"/>
<circle cx="294.4" cy="258.7" r="1.9" fill="#c6d0b4" fill-opacity="0.35"/>
<circle cx="279.7" cy="252.3" r="2.00" fill="#d3dac5" fill-opacity="0.8"/>
<circle cx="279.7" cy="252.3" r="1.9" fill="#c6d0b4" fill-opacity="0.35"/>
<circle cx="284.6" cy="252.3" r="2.00" fill="#d3dac5" fill-opacity="0.8"/>
<circle cx="284.6" cy="252.3" r="1.9" fill="#c6d0b4" fill-opacity="0.35"/>
<circle cx="289.5" cy="252.3" r="3.60" fill="#d3dac5" fill-opacity="0.8"/>
<circle cx="289.5" cy="252.3" r="1.9" fill="#c6d0b4" fill-opacity="0.35"/>
<circle cx="294.4" cy="252.3" r="3.60" fill="#d3dac5" fill-opacity="0.8"/>
<circle cx="294.4" cy="252.3" r="1.9" fill="#c6d0b4" fill-opacity="0.35"/>
<circle cx="299.4" cy="252.3" r="2.00" fill="#d3dac5" fill-opacity="0.8"/>
<circle cx="299.4" cy="252.3" r="1.9" fill="#c6d0b4" fill-opacity="0.35"/>
<circle cx="304.3" cy="252.3" r="2.00" fill="#d3dac5" fill-opacity="0.8"/>
<circle cx="304.3" cy="252.3" r="1.9" fill="#c6d0b4" fill-opacity="0.35"/>
<circle cx="299.4" cy="245.9" r="4.35" fill="#d3dac5" fill-opacity="0.8"/>
<circle cx="299.4" cy="245.9" r="1.9" fill="#c6d0b4" fill-opacity="0.35"/>
<circle cx="304.3" cy="245.9" r="3.60" fill="#d3dac5" fill-opacity="0.8"/>
<circle cx="304.3" cy="245.9" r="1.9" fill="#c6d0b4" fill-opacity="0.35"/>
<circle cx="309.2" cy="239.5" r="3.60" fill="#d3dac5" fill-opacity="0.8"/>
<circle cx="309.2" cy="239.5" r="1.9" fill="#c6d0b4" fill-opacity="0.35"/>
<circle cx="309.2" cy="233.1" r="4.35" fill="#d3dac5" fill-opacity="0.8"/>
<circle cx="309.2" cy="233.1" r="1.9" fill="#c6d0b4" fill-opacity="0.35"/>
<circle cx="314.1" cy="233.1" r="2.00" fill="#d3dac5" fill-opacity="0.8"/>
<circle cx="314.1" cy="233.1" r="1.9" fill="#c6d0b4" fill-opacity="0.35"/>
<circle cx="319.1" cy="233.1" r="2.00" fill="#d3dac5" fill-opacity="0.8"/>
<circle cx="319.1" cy="233.1" r="1.9" fill="#c6d0b4" fill-opacity="0.35"/>
<circle cx="314.1" cy="226.7" r="3.60" fill="#d3dac5" fill-opacity="0.8"/>
<circle cx="314.1" cy="226.7" r="1.9" fill="#c6d0b4" fill-opacity="0.35"/>
<circle cx="309.2" cy="220.3" r="2.00" fill="#d3dac5" fill-opacity="0.8"/>
<circle cx="309.2" cy="220.3" r="1.9" fill="#c6d0b4" fill-opacity="0.35"/>
<circle cx="314.1" cy="220.3" r="2.00" fill="#d3dac5" fill-opacity="0.8"/>
<circle cx="314.1" cy="220.3" r="1.9" fill="#c6d0b4" fill-opacity="0.35"/>
<circle cx="319.1" cy="220.3" r="2.00" fill="#d3dac5" fill-opacity="0.8"/>
<circle cx="319.1" cy="220.3" r="1.9" fill="#c6d0b4" fill-opacity="0.35"/>
<circle cx="328.9" cy="220.3" r="3.60" fill="#d3dac5" fill-opacity="0.8"/>
<circle cx="328.9" cy="220.3" r="1.9" fill="#c6d0b4" fill-opacity="0.35"/>
<circle cx="319.1" cy="214.0" r="3.60" fill="#d3dac5" fill-opacity="0.8"/>
<circle cx="319.1" cy="214.0" r="1.9" fill="#c6d0b4" fill-opacity="0.35"/>
<circle cx="319.1" cy="207.6" r="3.60" fill="#d3dac5" fill-opacity="0.8"/>
<circle cx="319.1" cy="207.6" r="1.9" fill="#c6d0b4" fill-opacity="0.35"/>
<circle cx="324.0" cy="207.6" r="3.60" fill="#d3dac5" fill-opacity="0.8"/>
<circle cx="324.0" cy="207.6" r="1.9" fill="#c6d0b4" fill-opacity="0.35"/>
<circle cx="368.3" cy="143.7" r="2.00" fill="#d3dac5" fill-opacity="0.8"/>
<circle cx="368.3" cy="143.7" r="1.9" fill="#c6d0b4" fill-opacity="0.35"/>
<circle cx="363.4" cy="156.5" r="2.00" fill="#d3dac5" fill-opacity="0.8"/>
<circle cx="363.4" cy="156.5" r="1.9" fill="#c6d0b4" fill-opacity="0.35"/>
<circle cx="368.3" cy="156.5" r="3.60" fill="#d3dac5" fill-opacity="0.8"/>
<circle cx="368.3" cy="156.5" r="1.9" fill="#c6d0b4" fill-opacity="0.35"/>
<circle cx="368.3" cy="162.9" r="5.10" fill="#d3dac5" fill-opacity="0.8"/>
<circle cx="368.3" cy="162.9" r="1.9" fill="#c6d0b4" fill-opacity="0.35"/>
<circle cx="348.6" cy="169.3" r="3.60" fill="#d3dac5" fill-opacity="0.8"/>
<circle cx="348.6" cy="169.3" r="1.9" fill="#c6d0b4" fill-opacity="0.35"/>
<circle cx="353.5" cy="169.3" r="3.60" fill="#d3dac5" fill-opacity="0.8"/>
<circle cx="353.5" cy="169.3" r="1.9" fill="#c6d0b4" fill-opacity="0.35"/>
<circle cx="363.4" cy="169.3" r="3.60" fill="#d3dac5" fill-opacity="0.8"/>
<circle cx="363.4" cy="169.3" r="1.9" fill="#c6d0b4" fill-opacity="0.35"/>
<circle cx="368.3" cy="169.3" r="3.60" fill="#d3dac5" fill-opacity="0.8"/>
<circle cx="368.3" cy="169.3" r="1.9" fill="#c6d0b4" fill-opacity="0.35"/>
<circle cx="343.7" cy="175.6" r="2.00" fill="#d3dac5" fill-opacity="0.8"/>
<circle cx="343.7" cy="175.6" r="1.9" fill="#c6d0b4" fill-opacity="0.35"/>
<circle cx="348.6" cy="175.6" r="3.60" fill="#d3dac5" fill-opacity="0.8"/>
<circle cx="348.6" cy="175.6" r="1.9" fill="#c6d0b4" fill-opacity="0.35"/>
<circle cx="358.4" cy="175.6" r="2.00" fill="#d3dac5" fill-opacity="0.8"/>
<circle cx="358.4" cy="175.6" r="1.9" fill="#c6d0b4" fill-opacity="0.35"/>
<circle cx="363.4" cy="175.6" r="2.00" fill="#d3dac5" fill-opacity="0.8"/>
<circle cx="363.4" cy="175.6" r="1.9" fill="#c6d0b4" fill-opacity="0.35"/>
<circle cx="373.2" cy="175.6" r="3.60" fill="#d3dac5" fill-opacity="0.8"/>
<circle cx="373.2" cy="175.6" r="1.9" fill="#c6d0b4" fill-opacity="0.35"/>
<circle cx="338.7" cy="182.0" r="2.00" fill="#d3dac5" fill-opacity="0.8"/>
<circle cx="338.7" cy="182.0" r="1.9" fill="#c6d0b4" fill-opacity="0.35"/>
<circle cx="343.7" cy="182.0" r="2.00" fill="#d3dac5" fill-opacity="0.8"/>
<circle cx="343.7" cy="182.0" r="1.9" fill="#c6d0b4" fill-opacity="0.35"/>
<circle cx="353.5" cy="182.0" r="2.00" fill="#d3dac5" fill-opacity="0.8"/>
<circle cx="353.5" cy="182.0" r="1.9" fill="#c6d0b4" fill-opacity="0.35"/>
<circle cx="328.9" cy="188.4" r="2.00" fill="#d3dac5" fill-opacity="0.8"/>
<circle cx="328.9" cy="188.4" r="1.9" fill="#c6d0b4" fill-opacity="0.35"/>
<circle cx="333.8" cy="188.4" r="2.00" fill="#d3dac5" fill-opacity="0.8"/>
<circle cx="333.8" cy="188.4" r="1.9" fill="#c6d0b4" fill-opacity="0.35"/>
<circle cx="348.6" cy="188.4" r="2.00" fill="#d3dac5" fill-opacity="0.8"/>
<circle cx="348.6" cy="188.4" r="1.9" fill="#c6d0b4" fill-opacity="0.35"/>
<circle cx="319.1" cy="194.8" r="2.00" fill="#d3dac5" fill-opacity="0.8"/>
<circle cx="319.1" cy="194.8" r="1.9" fill="#c6d0b4" fill-opacity="0.35"/>
<circle cx="324.0" cy="201.2" r="2.00" fill="#d3dac5" fill-opacity="0.8"/>
<circle cx="324.0" cy="201.2" r="1.9" fill="#c6d0b4" fill-opacity="0.35"/>
<circle cx="333.8" cy="201.2" r="3.60" fill="#d3dac5" fill-opacity="0.8"/>
<circle cx="333.8" cy="201.2" r="1.9" fill="#c6d0b4" fill-opacity="0.35"/>
<circle cx="343.7" cy="201.2" r="2.00" fill="#d3dac5" fill-opacity="0.8"/>
<circle cx="343.7" cy="201.2" r="1.9" fill="#c6d0b4" fill-opacity="0.35"/>
<circle cx="348.6" cy="201.2" r="3.60" fill="#d3dac5" fill-opacity="0.8"/>
<circle cx="348.6" cy="201.2" r="1.9" fill="#c6d0b4" fill-opacity="0.35"/>
<circle cx="333.8" cy="207.6" r="3.60" fill="#d3dac5" fill-opacity="0.8"/>
<circle cx="333.8" cy="207.6" r="1.9" fill="#c6d0b4" fill-opacity="0.35"/>
<circle cx="343.7" cy="207.6" r="2.00" fill="#d3dac5" fill-opacity="0.8"/>
<circle cx="343.7" cy="207.6" r="1.9" fill="#c6d0b4" fill-opacity="0.35"/>
<circle cx="328.9" cy="214.0" r="2.00" fill="#d3dac5" fill-opacity="0.8"/>
<circle cx="328.9" cy="214.0" r="1.9" fill="#c6d0b4" fill-opacity="0.35"/>
<circle cx="333.8" cy="214.0" r="3.60" fill="#d3dac5" fill-opacity="0.8"/>
<circle cx="333.8" cy="214.0" r="1.9" fill="#c6d0b4" fill-opacity="0.35"/>
<circle cx="343.7" cy="214.0" r="2.00" fill="#d3dac5" fill-opacity="0.8"/>
<circle cx="343.7" cy="214.0" r="1.9" fill="#c6d0b4" fill-opacity="0.35"/>
<circle cx="348.6" cy="214.0" r="2.00" fill="#d3dac5" fill-opacity="0.8"/>
<circle cx="348.6" cy="214.0" r="1.9" fill="#c6d0b4" fill-opacity="0.35"/>
<circle cx="432.3" cy="73.5" r="3.60" fill="#d3dac5" fill-opacity="0.8"/>
<circle cx="432.3" cy="73.5" r="1.9" fill="#c6d0b4" fill-opacity="0.35"/>
<circle cx="427.4" cy="73.5" r="2.00" fill="#d3dac5" fill-opacity="0.8"/>
<circle cx="427.4" cy="73.5" r="1.9" fill="#c6d0b4" fill-opacity="0.35"/>
<circle cx="427.4" cy="79.9" r="4.35" fill="#d3dac5" fill-opacity="0.8"/>
<circle cx="427.4" cy="79.9" r="1.9" fill="#c6d0b4" fill-opacity="0.35"/>
<circle cx="432.3" cy="79.9" r="3.60" fill="#d3dac5" fill-opacity="0.8"/>
<circle cx="432.3" cy="79.9" r="1.9" fill="#c6d0b4" fill-opacity="0.35"/>
<circle cx="432.3" cy="86.2" r="2.00" fill="#d3dac5" fill-opacity="0.8"/>
<circle cx="432.3" cy="86.2" r="1.9" fill="#c6d0b4" fill-opacity="0.35"/>
<circle cx="427.4" cy="92.6" r="4.35" fill="#d3dac5" fill-opacity="0.8"/>
<circle cx="427.4" cy="92.6" r="1.9" fill="#c6d0b4" fill-opacity="0.35"/>
<circle cx="412.6" cy="99.0" r="3.60" fill="#d3dac5" fill-opacity="0.8"/>
<circle cx="412.6" cy="99.0" r="1.9" fill="#c6d0b4" fill-opacity="0.35"/>
<circle cx="417.5" cy="99.0" r="2.00" fill="#d3dac5" fill-opacity="0.8"/>
<circle cx="417.5" cy="99.0" r="1.9" fill="#c6d0b4" fill-opacity="0.35"/>
<circle cx="422.4" cy="99.0" r="2.00" fill="#d3dac5" fill-opacity="0.8"/>
<circle cx="422.4" cy="99.0" r="1.9" fill="#c6d0b4" fill-opacity="0.35"/>
<circle cx="407.7" cy="105.4" r="2.00" fill="#d3dac5" fill-opacity="0.8"/>
<circle cx="407.7" cy="105.4" r="1.9" fill="#c6d0b4" fill-opacity="0.35"/>
<circle cx="412.6" cy="105.4" r="2.00" fill="#d3dac5" fill-opacity="0.8"/>
<circle cx="412.6" cy="105.4" r="1.9" fill="#c6d0b4" fill-opacity="0.35"/>
<circle cx="417.5" cy="105.4" r="2.00" fill="#d3dac5" fill-opacity="0.8"/>
<circle cx="417.5" cy="105.4" r="1.9" fill="#c6d0b4" fill-opacity="0.35"/>
<circle cx="407.7" cy="111.8" r="2.00" fill="#d3dac5" fill-opacity="0.8"/>
<circle cx="407.7" cy="111.8" r="1.9" fill="#c6d0b4" fill-opacity="0.35"/>
<circle cx="412.6" cy="111.8" r="2.00" fill="#d3dac5" fill-opacity="0.8"/>
<circle cx="412.6" cy="111.8" r="1.9" fill="#c6d0b4" fill-opacity="0.35"/>
<circle cx="417.5" cy="111.8" r="2.00" fill="#d3dac5" fill-opacity="0.8"/>
<circle cx="417.5" cy="111.8" r="1.9" fill="#c6d0b4" fill-opacity="0.35"/>
<circle cx="427.4" cy="118.2" r="2.00" fill="#d3dac5" fill-opacity="0.8"/>
<circle cx="427.4" cy="118.2" r="1.9" fill="#c6d0b4" fill-opacity="0.35"/>
<circle cx="388.0" cy="124.6" r="2.00" fill="#d3dac5" fill-opacity="0.8"/>
<circle cx="388.0" cy="124.6" r="1.9" fill="#c6d0b4" fill-opacity="0.35"/>
<circle cx="402.7" cy="124.6" r="2.00" fill="#d3dac5" fill-opacity="0.8"/>
<circle cx="402.7" cy="124.6" r="1.9" fill="#c6d0b4" fill-opacity="0.35"/>
<circle cx="388.0" cy="130.9" r="3.60" fill="#d3dac5" fill-opacity="0.8"/>
<circle cx="388.0" cy="130.9" r="1.9" fill="#c6d0b4" fill-opacity="0.35"/>
<circle cx="392.9" cy="137.3" r="3.60" fill="#d3dac5" fill-opacity="0.8"/>
<circle cx="392.9" cy="137.3" r="1.9" fill="#c6d0b4" fill-opacity="0.35"/>
<circle cx="388.0" cy="150.1" r="2.00" fill="#d3dac5" fill-opacity="0.8"/>
<circle cx="388.0" cy="150.1" r="1.9" fill="#c6d0b4" fill-opacity="0.35"/>
<circle cx="392.9" cy="150.1" r="2.00" fill="#d3dac5" fill-opacity="0.8"/>
<circle cx="392.9" cy="150.1" r="1.9" fill="#c6d0b4" fill-opacity="0.35"/>
<circle cx="397.8" cy="156.5" r="2.00" fill="#d3dac5" fill-opacity="0.8"/>
<circle cx="397.8" cy="156.5" r="1.9" fill="#c6d0b4" fill-opacity="0.35"/>
<circle cx="373.2" cy="156.5" r="2.00" fill="#d3dac5" fill-opacity="0.8"/>
<circle cx="373.2" cy="156.5" r="1.9" fill="#c6d0b4" fill-opacity="0.35"/>
<line x1="279.7" y1="270.2" x2="432.3" y2="84.3" stroke="#d3dac5" stroke-width="2.7"/>
</g>
<text x="461.60" y="292.00" text-anchor="end" font-size="11.7" fill="#000"><tspan font-style="italic">r</tspan> = 0.98</text>
<text x="461.60" y="313.20" text-anchor="end" font-size="11.7" fill="#000"><tspan font-style="italic">P</tspan> &lt; 0.001</text>
<rect x="255.30" y="35.24" width="211.20" height="280.56" fill="none" stroke="#333" stroke-width="1.4"/>
<line x1="259.98" x2="259.98" y1="316.50" y2="319.70" stroke="#333" stroke-width="1.4"/>
<text x="259.98" y="330.10" text-anchor="middle" font-size="11" fill="#4d4d4d">0</text>
<line x1="309.21" x2="309.21" y1="316.50" y2="319.70" stroke="#333" stroke-width="1.4"/>
<text x="309.21" y="330.10" text-anchor="middle" font-size="11" fill="#4d4d4d">10</text>
<line x1="358.44" x2="358.44" y1="316.50" y2="319.70" stroke="#333" stroke-width="1.4"/>
<text x="358.44" y="330.10" text-anchor="middle" font-size="11" fill="#4d4d4d">20</text>
<line x1="407.67" x2="407.67" y1="316.50" y2="319.70" stroke="#333" stroke-width="1.4"/>
<text x="407.67" y="330.10" text-anchor="middle" font-size="11" fill="#4d4d4d">30</text>
<line x1="456.90" x2="456.90" y1="316.50" y2="319.70" stroke="#333" stroke-width="1.4"/>
<text x="456.90" y="330.10" text-anchor="middle" font-size="11" fill="#4d4d4d">40</text>
<rect x="473.20" y="14.57" width="211.20" height="20.67" fill="#d9d9d9" stroke="#333" stroke-width="1.4"/>
<text x="578.80" y="28.92" text-anchor="middle" font-size="12.1" fill="#1a1a1a">S3: Brainstem-early/OBT-later</text>
<rect x="473.20" y="35.24" width="211.20" height="280.56" fill="#fff"/>
<line x1="477.88" x2="477.88" y1="35.24" y2="315.80" stroke="#ebebeb" stroke-width="1.4"/>
<line x1="527.11" x2="527.11" y1="35.24" y2="315.80" stroke="#ebebeb" stroke-width="1.4"/>
<line x1="576.34" x2="576.34" y1="35.24" y2="315.80" stroke="#ebebeb" stroke-width="1.4"/>
<line x1="625.57" x2="625.57" y1="35.24" y2="315.80" stroke="#ebebeb" stroke-width="1.4"/>
<line x1="674.80" x2="674.80" y1="35.24" y2="315.80" stroke="#ebebeb" stroke-width="1.4"/>
<line x1="473.20" x2="684.40" y1="303.36" y2="303.36" stroke="#ebebeb" stroke-width="1.4"/>
<line x1="473.20" x2="684.40" y1="239.50" y2="239.50" stroke="#ebebeb" stroke-width="1.4"/>
<line x1="473.20" x2="684.40" y1="175.65" y2="175.65" stroke="#ebebeb" stroke-width="1.4"/>
<line x1="473.20" x2="684.40" y1="111.79" y2="111.79" stroke="#ebebeb" stroke-width="1.4"/>
<line x1="473.20" x2="684.40" y1="47.93" y2="47.93" stroke="#ebebeb" stroke-width="1.4"/>
<g clip-path="url(#ca2)">
<circle cx="482.8" cy="297.0" r="6.50" fill="#e07566" fill-opacity="0.5"/>
<circle cx="482.8" cy="297.0" r="1.9" fill="#e07566" fill-opacity="0.80"/>
<circle cx="492.6" cy="303.4" r="3.60" fill="#e07566" fill-opacity="0.5"/>
<circle cx="492.6" cy="303.4" r="1.9" fill="#e07566" fill-opacity="0.64"/>
<circle cx="482.8" cy="290.6" r="3.60" fill="#e07566" fill-opacity="0.5"/>
<circle cx="482.8" cy="290.6" r="1.9" fill="#e07566" fill-opacity="0.64"/>
<circle cx="487.7" cy="290.6" r="2.00" fill="#e07566" fill-opacity="0.5"/>
<circle cx="487.7" cy="290.6" r="1.9" fill="#e07566" fill-opacity="0.52"/>
<circle cx="492.6" cy="290.6" r="3.60" fill="#e07566" fill-opacity="0.5"/>
<circle cx="492.6" cy="290.6" r="1.9" fill="#e07566" fill-opacity="0.64"/>
<circle cx="492.6" cy="284.2" r="3.60" fill="#e07566" fill-opacity="0.5"/>
<circle cx="492.6" cy="284.2" r="1.9" fill="#e07566" fill-opacity="0.64"/>
<circle cx="492.6" cy="277.8" r="2.00" fill="#e07566" fill-opacity="0.5"/>
<circle cx="492.6" cy="277.8" r="1.9" fill="#e07566" fill-opacity="0.52"/>
<circle cx="492.6" cy="271.4" r="2.00" fill="#e07566" fill-opacity="0.5"/>
<circle cx="492.6" cy="271.4" r="1.9" fill="#e07566" fill-opacity="0.52"/>
<circle cx="497.6" cy="271.4" r="2.00" fill="#e07566" fill-opacity="0.5"/>
<circle cx="497.6" cy="271.4" r="1.9" fill="#e07566" fill-opacity="0.52"/>
<circle cx="502.5" cy="265.0" r="2.00" fill="#e07566" fill-opacity="0.5"/>
<circle cx="502.5" cy="265.0" r="1.9" fill="#e07566" fill-opacity="0.52"/>
<circle cx="507.4" cy="265.0" r="2.00" fill="#e07566" fill-opacity="0.5"/>
<circle cx="507.4" cy="265.0" r="1.9" fill="#e07566" fill-opacity="0.52"/>
<circle cx="502.5" cy="258.7" r="2.00" fill="#e07566" fill-opacity="0.5"/>
<circle cx="502.5" cy="258.7" r="1.9" fill="#e07566" fill-opacity="0.52"/>
<circle cx="517.3" cy="252.3" r="2.00" fill="#e07566" fill-opacity="0.5"/>
<circle cx="517.3" cy="252.3" r="1.9" fill="#e07566" fill-opacity="0.52"/>
<circle cx="512.3" cy="245.9" r="2.00" fill="#e07566" fill-opacity="0.5"/>
<circle cx="512.3" cy="245.9" r="1.9" fill="#e07566" fill-opacity="0.52"/>
<circle cx="517.3" cy="245.9" r="2.00" fill="#e07566" fill-opacity="0.5"/>
<circle cx="517.3" cy="245.9" r="1.9" fill="#e07566" fill-opacity="0.52"/>
<circle cx="522.2" cy="245.9" r="2.00" fill="#e07566" fill-opacity="0.5"/>
<circle cx="522.2" cy="245.9" r="1.9" fill="#e07566" fill-opacity="0.52"/>
<circle cx="512.3" cy="239.5" r="2.00" fill="#e07566" fill-opacity="0.5"/>
<circle cx="512.3" cy="239.5" r="1.9" fill="#e07566" fill-opacity="0.52"/>
<circle cx="522.2" cy="239.5" r="3.60" fill="#e07566" fill-opacity="0.5"/>
<circle cx="522.2" cy="239.5" r="1.9" fill="#e07566" fill-opacity="0.64"/>
<circle cx="527.1" cy="239.5" r="2.00" fill="#e07566" fill-opacity="0.5"/>
<circle cx="527.1" cy="239.5" r="1.9" fill="#e07566" fill-opacity="0.52"/>
<circle cx="532.0" cy="239.5" r="2.00" fill="#e07566" fill-opacity="0.5"/>
<circle cx="532.0" cy="239.5" r="1.9" fill="#e07566" fill-opacity="0.52"/>
<circle cx="537.0" cy="239.5" r="2.00" fill="#e07566" fill-opacity="0.5"/>
<circle cx="537.0" cy="239.5" r="1.9" fill="#e07566" fill-opacity="0.52"/>
<circle cx="517.3" cy="233.1" r="2.00" fill="#e07566" fill-opacity="0.5"/>
<circle cx="517.3" cy="233.1" r="1.9" fill="#e07566" fill-opacity="0.52"/>
<circle cx="527.1" cy="233.1" r="2.00" fill="#e07566" fill-opacity="0.5"/>
<circle cx="527.1" cy="233.1" r="1.9" fill="#e07566" fill-opacity="0.52"/>
<circle cx="532.0" cy="233.1" r="3.60" fill="#e07566" fill-opacity="0.5"/>
<circle cx="532.0" cy="233.1" r="1.9" fill="#e07566" fill-opacity="0.64"/>
<circle cx="522.2" cy="226.7" r="3.60" fill="#e07566" fill-opacity="0.5"/>
<circle cx="522.2" cy="226.7" r="1.9" fill="#e07566" fill-opacity="0.64"/>
<circle cx="522.2" cy="214.0" r="2.00" fill="#e07566" fill-opacity="0.5"/>
<circle cx="522.2" cy="214.0" r="1.9" fill="#e07566" fill-opacity="0.52"/>
<circle cx="601.0" cy="130.9" r="2.00" fill="#e07566" fill-opacity="0.5"/>
<circle cx="601.0" cy="130.9" r="1.9" fill="#e07566" fill-opacity="0.52"/>
<circle cx="605.9" cy="130.9" r="2.00" fill="#e07566" fill-opacity="0.5"/>
<circle cx="605.9" cy="130.9" r="1.9" fill="#e07566" fill-opacity="0.52"/>
<circle cx="586.2" cy="137.3" r="2.00" fill="#e07566" fill-opacity="0.5"/>
<circle cx="586.2" cy="137.3" r="1.9" fill="#e07566" fill-opacity="0.52"/>
<circle cx="601.0" cy="137.3" r="2.00" fill="#e07566" fill-opacity="0.5"/>
<circle cx="601.0" cy="137.3" r="1.9" fill="#e07566" fill-opacity="0.52"/>
<circle cx="605.9" cy="137.3" r="3.60" fill="#e07566" fill-opacity="0.5"/>
<circle cx="605.9" cy="137.3" r="1.9" fill="#e07566" fill-opacity="0.64"/>
<circle cx="581.3" cy="150.1" r="2.00" fill="#e07566" fill-opacity="0.5"/>
<circle cx="581.3" cy="150.1" r="1.9" fill="#e07566" fill-opacity="0.52"/>
<circle cx="586.2" cy="150.1" r="2.00" fill="#e07566" fill-opacity="0.5"/>
<circle cx="586.2" cy="150.1" r="1.9" fill="#e07566" fill-opacity="0.52"/>
<circle cx="601.0" cy="150.1" r="2.00" fill="#e07566" fill-opacity="0.5"/>
<circle cx="601.0" cy="150.1" r="1.9" fill="#e07566" fill-opacity="0.52"/>
<circle cx="581.3" cy="156.5" r="2.00" fill="#e07566" fill-opacity="0.5"/>
<circle cx="581.3" cy="156.5" r="1.9" fill="#e07566" fill-opacity="0.52"/>
<circle cx="586.2" cy="156.5" r="2.00" fill="#e07566" fill-opacity="0.5"/>
<circle cx="586.2" cy="156.5" r="1.9" fill="#e07566" fill-opacity="0.52"/>
<circle cx="591.1" cy="156.5" r="3.60" fill="#e07566" fill-opacity="0.5"/>
<circle cx="591.1" cy="156.5" r="1.9" fill="#e07566" fill-opacity="0.64"/>
<circle cx="571.4" cy="162.9" r="2.00" fill="#e07566" fill-opacity="0.5"/>
<circle cx="571.4" cy="162.9" r="1.9" fill="#e07566" fill-opacity="0.52"/>
<circle cx="581.3" cy="162.9" r="2.00" fill="#e07566" fill-opacity="0.5"/>
<circle cx="581.3" cy="162.9" r="1.9" fill="#e07566" fill-opacity="0.52"/>
<circle cx="586.2" cy="162.9" r="3.60" fill="#e07566" fill-opacity="0.5"/>
<circle cx="586.2" cy="162.9" r="1.9" fill="#e07566" fill-opacity="0.64"/>
<circle cx="571.4" cy="169.3" r="2.00" fill="#e07566" fill-opacity="0.5"/>
<circle cx="571.4" cy="169.3" r="1.9" fill="#e07566" fill-opacity="0.52"/>
<circle cx="586.2" cy="169.3" r="3.60" fill="#e07566" fill-opacity="0.5"/>
<circle cx="586.2" cy="169.3" r="1.9" fill="#e07566" fill-opacity="0.64"/>
<circle cx="596.0" cy="169.3" r="2.00" fill="#e07566" fill-opacity="0.5"/>
<circle cx="596.0" cy="169.3" r="1.9" fill="#e07566" fill-opacity="0.52"/>
<circle cx="571.4" cy="175.6" r="2.00" fill="#e07566" fill-opacity="0.5"/>
<circle cx="571.4" cy="175.6" r="1.9" fill="#e07566" fill-opacity="0.52"/>
<circle cx="576.3" cy="175.6" r="2.00" fill="#e07566" fill-opacity="0.5"/>
<circle cx="576.3" cy="175.6" r="1.9" fill="#e07566" fill-opacity="0.52"/>
<circle cx="581.3" cy="175.6" r="3.60" fill="#e07566" fill-opacity="0.5"/>
<circle cx="581.3" cy="175.6" r="1.9" fill="#e07566" fill-opacity="0.64"/>
<circle cx="561.6" cy="182.0" r="3.60" fill="#e07566" fill-opacity="0.5"/>
<circle cx="561.6" cy="182.0" r="1.9" fill="#e07566" fill-opacity="0.64"/>
<circle cx="571.4" cy="182.0" r="3.60" fill="#e07566" fill-opacity="0.5"/>
<circle cx="571.4" cy="182.0" r="1.9" fill="#e07566" fill-opacity="0.64"/>
<circle cx="576.3" cy="182.0" r="2.00" fill="#e07566" fill-opacity="0.5"/>
<circle cx="576.3" cy="182.0" r="1.9" fill="#e07566" fill-opacity="0.52"/>
<circle cx="581.3" cy="182.0" r="4.35" fill="#e07566" fill-opacity="0.5"/>
<circle cx="581.3" cy="182.0" r="1.9" fill="#e07566" fill-opacity="0.76"/>
<circle cx="601.0" cy="182.0" r="2.00" fill="#e07566" fill-opacity="0.5"/>
<circle cx="601.0" cy="182.0" r="1.9" fill="#e07566" fill-opacity="0.52"/>
<circle cx="561.6" cy="188.4" r="2.00" fill="#e07566" fill-opacity="0.5"/>
<circle cx="561.6" cy="188.4" r="1.9" fill="#e07566" fill-opacity="0.52"/>
<circle cx="571.4" cy="188.4" r="2.00" fill="#e07566" fill-opacity="0.5"/>
<circle cx="571.4" cy="188.4" r="1.9" fill="#e07566" fill-opacity="0.52"/>
<circle cx="576.3" cy="188.4" r="2.00" fill="#e07566" fill-opacity="0.5"/>
<circle cx="576.3" cy="188.4" r="1.9" fill="#e07566" fill-opacity="0.52"/>
<circle cx="581.3" cy="188.4" r="2.00" fill="#e07566" fill-opacity="0.5"/>
<circle cx="581.3" cy="188.4" r="1.9" fill="#e07566" fill-opacity="0.52"/>
<circle cx="566.5" cy="194.8" r="2.00" fill="#e07566" fill-opacity="0.5"/>
<circle cx="566.5" cy="194.8" r="1.9" fill="#e07566" fill-opacity="0.52"/>
<circle cx="571.4" cy="194.8" r="4.35" fill="#e07566" fill-opacity="0.5"/>
<circle cx="571.4" cy="194.8" r="1.9" fill="#e07566" fill-opacity="0.76"/>
<circle cx="576.3" cy="194.8" r="2.00" fill="#e07566" fill-opacity="0.5"/>
<circle cx="576.3" cy="194.8" r="1.9" fill="#e07566" fill-opacity="0.52"/>
<circle cx="561.6" cy="201.2" r="2.00" fill="#e07566" fill-opacity="0.5"/>
<circle cx="561.6" cy="201.2" r="1.9" fill="#e07566" fill-opacity="0.52"/>
<circle cx="541.9" cy="207.6" r="2.00" fill="#e07566" fill-opacity="0.5"/>
<circle cx="541.9" cy="207.6" r="1.9" fill="#e07566" fill-opacity="0.52"/>
<circle cx="532.0" cy="214.0" r="2.00" fill="#e07566" fill-opacity="0.5"/>
<circle cx="532.0" cy="214.0" r="1.9" fill="#e07566" fill-opacity="0.52"/>
<circle cx="541.9" cy="214.0" r="2.00" fill="#e07566" fill-opacity="0.5"/>
<circle cx="541.9" cy="214.0" r="1.9" fill="#e07566" fill-opacity="0.52"/>
<circle cx="571.4" cy="214.0" r="2.00" fill="#e07566" fill-opacity="0.5"/>
<circle cx="571.4" cy="214.0" r="1.9" fill="#e07566" fill-opacity="0.52"/>
<circle cx="537.0" cy="220.3" r="2.00" fill="#e07566" fill-opacity="0.5"/>
<circle cx="537.0" cy="220.3" r="1.9" fill="#e07566" fill-opacity="0.52"/>
<circle cx="551.7" cy="220.3" r="2.00" fill="#e07566" fill-opacity="0.5"/>
<circle cx="551.7" cy="220.3" r="1.9" fill="#e07566" fill-opacity="0.52"/>
<circle cx="527.1" cy="226.7" r="2.00" fill="#e07566" fill-opacity="0.5"/>
<circle cx="527.1" cy="226.7" r="1.9" fill="#e07566" fill-opacity="0.52"/>
<circle cx="645.3" cy="86.2" r="3.60" fill="#e07566" fill-opacity="0.5"/>
<circle cx="645.3" cy="86.2" r="1.9" fill="#e07566" fill-opacity="0.64"/>
<circle cx="650.2" cy="86.2" r="3.60" fill="#e07566" fill-opacity="0.5"/>
<circle cx="650.2" cy="86.2" r="1.9" fill="#e07566" fill-opacity="0.64"/>
<circle cx="640.3" cy="92.6" r="2.00" fill="#e07566" fill-opacity="0.5"/>
<circle cx="640.3" cy="92.6" r="1.9" fill="#e07566" fill-opacity="0.52"/>
<circle cx="645.3" cy="92.6" r="3.60" fill="#e07566" fill-opacity="0.5"/>
<circle cx="645.3" cy="92.6" r="1.9" fill="#e07566" fill-opacity="0.64"/>
<circle cx="650.2" cy="92.6" r="2.00" fill="#e07566" fill-opacity="0.5"/>
<circle cx="650.2" cy="92.6" r="1.9" fill="#e07566" fill-opacity="0.52"/>
<circle cx="645.3" cy="99.0" r="2.00" fill="#e07566" fill-opacity="0.5"/>
<circle cx="645.3" cy="99.0" r="1.9" fill="#e07566" fill-opacity="0.52"/>
<circle cx="650.2" cy="99.0" r="2.00" fill="#e07566" fill-opacity="0.5"/>
<circle cx="650.2" cy="99.0" r="1.9" fill="#e07566" fill-opacity="0.52"/>
<circle cx="645.3" cy="105.4" r="2.00" fill="#e07566" fill-opacity="0.5"/>
<circle cx="645.3" cy="105.4" r="1.9" fill="#e07566" fill-opacity="0.52"/>
<circle cx="601.0" cy="118.2" r="2.00" fill="#e07566" fill-opacity="0.5"/>
<circle cx="601.0" cy="118.2" r="1.9" fill="#e07566" fill-opacity="0.52"/>
<circle cx="625.6" cy="118.2" r="3.60" fill="#e07566" fill-opacity="0.5"/>
<circle cx="625.6" cy="118.2" r="1.9" fill="#e07566" fill-opacity="0.64"/>
<circle cx="615.7" cy="124.6" r="4.35" fill="#e07566" fill-opacity="0.5"/>
<circle cx="615.7" cy="124.6" r="1.9" fill="#e07566" fill-opacity="0.76"/>
<circle cx="615.7" cy="130.9" r="3.60" fill="#e07566" fill-opacity="0.5"/>
<circle cx="615.7" cy="130.9" r="1.9" fill="#e07566" fill-opacity="0.64"/>
<circle cx="620.6" cy="130.9" r="2.00" fill="#e07566" fill-opacity="0.5"/>
<circle cx="620.6" cy="130.9" r="1.9" fill="#e07566" fill-opacity="0.52"/>
<circle cx="610.8" cy="137.3" r="2.00" fill="#e07566" fill-opacity="0.5"/>
<circle cx="610.8" cy="137.3" r="1.9" fill="#e07566" fill-opacity="0.52"/>
<circle cx="620.6" cy="137.3" r="2.00" fill="#e07566" fill-opacity="0.5"/>
<circle cx="620.6" cy="137.3" r="1.9" fill="#e07566" fill-opacity="0.52"/>
<circle cx="605.9" cy="143.7" r="2.00" fill="#e07566" fill-opacity="0.5"/>
<circle cx="605.9" cy="143.7" r="1.9" fill="#e07566" fill-opacity="0.52"/>
<circle cx="610.8" cy="150.1" r="2.00" fill="#e07566" fill-opacity="0.5"/>
<circle cx="610.8" cy="150.1" r="1.9" fill="#e07566" fill-opacity="0.52"/>
<line x1="482.8" y1="292.8" x2="650.2" y2="86.6" stroke="#e07566" stroke-width="2.7"/>
</g>
<text x="679.50" y="292.00" text-anchor="end" font-size="11.7" fill="#000"><tspan font-style="italic">r</tspan> = 0.98</text>
<text x="679.50" y="313.20" text-anchor="end" font-size="11.7" fill="#000"><tspan font-style="italic">P</tspan> &lt; 0.001</text>
<rect x="473.20" y="35.24" width="211.20" height="280.56" fill="none" stroke="#333" stroke-width="1.4"/>
<line x1="477.88" x2="477.88" y1="316.50" y2="319.70" stroke="#333" stroke-width="1.4"/>
<text x="477.88" y="330.10" text-anchor="middle" font-size="11" fill="#4d4d4d">0</text>
<line x1="527.11" x2="527.11" y1="316.50" y2="319.70" stroke="#333" stroke-width="1.4"/>
<text x="527.11" y="330.10" text-anchor="middle" font-size="11" fill="#4d4d4d">10</text>
<line x1="576.34" x2="576.34" y1="316.50" y2="319.70" stroke="#333" stroke-width="1.4"/>
<text x="576.34" y="330.10" text-anchor="middle" font-size="11" fill="#4d4d4d">20</text>
<line x1="625.57" x2="625.57" y1="316.50" y2="319.70" stroke="#333" stroke-width="1.4"/>
<text x="625.57" y="330.10" text-anchor="middle" font-size="11" fill="#4d4d4d">30</text>
<line x1="674.80" x2="674.80" y1="316.50" y2="319.70" stroke="#333" stroke-width="1.4"/>
<text x="674.80" y="330.10" text-anchor="middle" font-size="11" fill="#4d4d4d">40</text>
<text x="360.90" y="345.20" text-anchor="middle" font-size="13.3" fill="#000">SuStaIn stage</text>
<text transform="translate(13.26,176.82) rotate(-90)" text-anchor="middle" font-size="13.3" fill="#000">Total Lewy body pathology</text>
<rect x="35.77" y="381.75" width="211.00" height="20.65" fill="#d9d9d9" stroke="#333" stroke-width="1.4"/>
<text x="141.27" y="396.10" text-anchor="middle" font-size="12.1" fill="#1a1a1a">S1: OBT-early/Limbic-early</text>
<rect x="35.77" y="402.40" width="211.00" height="281.10" fill="#fff"/>
<line x1="40.35" x2="40.35" y1="402.40" y2="683.50" stroke="#ebebeb" stroke-width="1.4"/>
<line x1="89.58" x2="89.58" y1="402.40" y2="683.50" stroke="#ebebeb" stroke-width="1.4"/>
<line x1="138.81" x2="138.81" y1="402.40" y2="683.50" stroke="#ebebeb" stroke-width="1.4"/>
<line x1="188.04" x2="188.04" y1="402.40" y2="683.50" stroke="#ebebeb" stroke-width="1.4"/>
<line x1="237.27" x2="237.27" y1="402.40" y2="683.50" stroke="#ebebeb" stroke-width="1.4"/>
<line x1="35.77" x2="246.77" y1="632.96" y2="632.96" stroke="#ebebeb" stroke-width="1.4"/>
<line x1="35.77" x2="246.77" y1="578.55" y2="578.55" stroke="#ebebeb" stroke-width="1.4"/>
<line x1="35.77" x2="246.77" y1="524.14" y2="524.14" stroke="#ebebeb" stroke-width="1.4"/>
<line x1="35.77" x2="246.77" y1="469.74" y2="469.74" stroke="#ebebeb" stroke-width="1.4"/>
<line x1="35.77" x2="246.77" y1="415.33" y2="415.33" stroke="#ebebeb" stroke-width="1.4"/>
<g clip-path="url(#cb0)">
<circle cx="45.3" cy="415.3" r="7.75" fill="#5b9a8b" fill-opacity="0.5"/>
<circle cx="50.2" cy="415.3" r="6.80" fill="#5b9a8b" fill-opacity="0.5"/>
<circle cx="55.1" cy="415.3" r="5.80" fill="#5b9a8b" fill-opacity="0.5"/>
<circle cx="60.0" cy="415.3" r="5.80" fill="#5b9a8b" fill-opacity="0.5"/>
<circle cx="65.0" cy="415.3" r="5.80" fill="#5b9a8b" fill-opacity="0.5"/>
<circle cx="69.9" cy="415.3" r="2.20" fill="#5b9a8b" fill-opacity="0.5"/>
<circle cx="74.8" cy="415.3" r="5.80" fill="#5b9a8b" fill-opacity="0.5"/>
<circle cx="79.7" cy="415.3" r="2.20" fill="#5b9a8b" fill-opacity="0.5"/>
<circle cx="84.7" cy="415.3" r="5.80" fill="#5b9a8b" fill-opacity="0.5"/>
<circle cx="89.6" cy="415.3" r="4.60" fill="#5b9a8b" fill-opacity="0.5"/>
<circle cx="94.5" cy="415.3" r="2.20" fill="#5b9a8b" fill-opacity="0.5"/>
<circle cx="99.4" cy="415.3" r="4.60" fill="#5b9a8b" fill-opacity="0.5"/>
<circle cx="104.3" cy="415.3" r="4.60" fill="#5b9a8b" fill-opacity="0.5"/>
<circle cx="109.3" cy="415.3" r="2.20" fill="#5b9a8b" fill-opacity="0.5"/>
<circle cx="114.2" cy="415.3" r="4.60" fill="#5b9a8b" fill-opacity="0.5"/>
<circle cx="119.1" cy="415.3" r="2.20" fill="#5b9a8b" fill-opacity="0.5"/>
<circle cx="124.0" cy="415.3" r="5.80" fill="#5b9a8b" fill-opacity="0.5"/>
<circle cx="138.8" cy="415.3" r="5.80" fill="#5b9a8b" fill-opacity="0.5"/>
<circle cx="143.7" cy="415.3" r="2.20" fill="#5b9a8b" fill-opacity="0.5"/>
<circle cx="148.7" cy="415.3" r="5.80" fill="#5b9a8b" fill-opacity="0.5"/>
<circle cx="153.6" cy="415.3" r="5.80" fill="#5b9a8b" fill-opacity="0.5"/>
<circle cx="158.5" cy="415.3" r="6.80" fill="#5b9a8b" fill-opacity="0.5"/>
<circle cx="163.4" cy="415.3" r="5.80" fill="#5b9a8b" fill-opacity="0.5"/>
<circle cx="168.3" cy="415.3" r="5.80" fill="#5b9a8b" fill-opacity="0.5"/>
<circle cx="173.3" cy="415.3" r="5.80" fill="#5b9a8b" fill-opacity="0.5"/>
<circle cx="178.2" cy="415.3" r="6.80" fill="#5b9a8b" fill-opacity="0.5"/>
<circle cx="183.1" cy="415.3" r="2.20" fill="#5b9a8b" fill-opacity="0.5"/>
<circle cx="188.0" cy="415.3" r="5.80" fill="#5b9a8b" fill-opacity="0.5"/>
<circle cx="193.0" cy="415.3" r="5.80" fill="#5b9a8b" fill-opacity="0.5"/>
<circle cx="197.9" cy="415.3" r="2.20" fill="#5b9a8b" fill-opacity="0.5"/>
<circle cx="202.8" cy="415.3" r="2.20" fill="#5b9a8b" fill-opacity="0.5"/>
<circle cx="207.7" cy="415.3" r="2.20" fill="#5b9a8b" fill-opacity="0.5"/>
<circle cx="212.7" cy="415.3" r="2.20" fill="#5b9a8b" fill-opacity="0.5"/>
<circle cx="217.6" cy="415.3" r="2.20" fill="#5b9a8b" fill-opacity="0.5"/>
<circle cx="45.3" cy="420.8" r="5.80" fill="#5b9a8b" fill-opacity="0.5"/>
<circle cx="55.1" cy="420.8" r="2.20" fill="#5b9a8b" fill-opacity="0.5"/>
<circle cx="74.8" cy="420.8" r="2.20" fill="#5b9a8b" fill-opacity="0.5"/>
<circle cx="84.7" cy="420.8" r="2.20" fill="#5b9a8b" fill-opacity="0.5"/>
<circle cx="94.5" cy="420.8" r="2.20" fill="#5b9a8b" fill-opacity="0.5"/>
<circle cx="99.4" cy="420.8" r="2.20" fill="#5b9a8b" fill-opacity="0.5"/>
<circle cx="133.9" cy="420.8" r="2.20" fill="#5b9a8b" fill-opacity="0.5"/>
<circle cx="148.7" cy="420.8" r="2.20" fill="#5b9a8b" fill-opacity="0.5"/>
<circle cx="153.6" cy="420.8" r="2.20" fill="#5b9a8b" fill-opacity="0.5"/>
<circle cx="173.3" cy="420.8" r="2.20" fill="#5b9a8b" fill-opacity="0.5"/>
<circle cx="178.2" cy="420.8" r="2.20" fill="#5b9a8b" fill-opacity="0.5"/>
<circle cx="197.9" cy="420.8" r="4.60" fill="#5b9a8b" fill-opacity="0.5"/>
<circle cx="212.7" cy="420.8" r="2.20" fill="#5b9a8b" fill-opacity="0.5"/>
<circle cx="50.2" cy="426.2" r="2.20" fill="#5b9a8b" fill-opacity="0.5"/>
<circle cx="55.1" cy="426.2" r="2.20" fill="#5b9a8b" fill-opacity="0.5"/>
<circle cx="65.0" cy="426.2" r="2.20" fill="#5b9a8b" fill-opacity="0.5"/>
<circle cx="69.9" cy="426.2" r="4.60" fill="#5b9a8b" fill-opacity="0.5"/>
<circle cx="79.7" cy="426.2" r="4.60" fill="#5b9a8b" fill-opacity="0.5"/>
<circle cx="119.1" cy="426.2" r="2.20" fill="#5b9a8b" fill-opacity="0.5"/>
<circle cx="124.0" cy="426.2" r="4.60" fill="#5b9a8b" fill-opacity="0.5"/>
<circle cx="129.0" cy="426.2" r="2.20" fill="#5b9a8b" fill-opacity="0.5"/>
<circle cx="143.7" cy="426.2" r="2.20" fill="#5b9a8b" fill-opacity="0.5"/>
<circle cx="148.7" cy="426.2" r="2.20" fill="#5b9a8b" fill-opacity="0.5"/>
<circle cx="153.6" cy="426.2" r="2.20" fill="#5b9a8b" fill-opacity="0.5"/>
<circle cx="163.4" cy="426.2" r="2.20" fill="#5b9a8b" fill-opacity="0.5"/>
<circle cx="168.3" cy="426.2" r="4.60" fill="#5b9a8b" fill-opacity="0.5"/>
<circle cx="202.8" cy="426.2" r="2.20" fill="#5b9a8b" fill-opacity="0.5"/>
<circle cx="207.7" cy="426.2" r="2.20" fill="#5b9a8b" fill-opacity="0.5"/>
<circle cx="45.3" cy="431.7" r="2.20" fill="#5b9a8b" fill-opacity="0.5"/>
<circle cx="50.2" cy="431.7" r="2.20" fill="#5b9a8b" fill-opacity="0.5"/>
<circle cx="55.1" cy="431.7" r="2.20" fill="#5b9a8b" fill-opacity="0.5"/>
<circle cx="60.0" cy="431.7" r="2.20" fill="#5b9a8b" fill-opacity="0.5"/>
<circle cx="65.0" cy="431.7" r="2.20" fill="#5b9a8b" fill-opacity="0.5"/>
<circle cx="74.8" cy="431.7" r="4.60" fill="#5b9a8b" fill-opacity="0.5"/>
<circle cx="84.7" cy="431.7" r="4.60" fill="#5b9a8b" fill-opacity="0.5"/>
<circle cx="104.3" cy="431.7" r="2.20" fill="#5b9a8b" fill-opacity="0.5"/>
<circle cx="114.2" cy="431.7" r="4.60" fill="#5b9a8b" fill-opacity="0.5"/>
<circle cx="119.1" cy="431.7" r="2.20" fill="#5b9a8b" fill-opacity="0.5"/>
<circle cx="153.6" cy="431.7" r="2.20" fill="#5b9a8b" fill-opacity="0.5"/>
<circle cx="163.4" cy="431.7" r="4.60" fill="#5b9a8b" fill-opacity="0.5"/>
<circle cx="168.3" cy="431.7" r="2.20" fill="#5b9a8b" fill-opacity="0.5"/>
<circle cx="173.3" cy="431.7" r="2.20" fill="#5b9a8b" fill-opacity="0.5"/>
<circle cx="183.1" cy="431.7" r="4.60" fill="#5b9a8b" fill-opacity="0.5"/>
<circle cx="188.0" cy="431.7" r="2.20" fill="#5b9a8b" fill-opacity="0.5"/>
<circle cx="202.8" cy="431.7" r="2.20" fill="#5b9a8b" fill-opacity="0.5"/>
<circle cx="227.4" cy="431.7" r="2.20" fill="#5b9a8b" fill-opacity="0.5"/>
<circle cx="45.3" cy="437.1" r="2.20" fill="#5b9a8b" fill-opacity="0.5"/>
<circle cx="50.2" cy="437.1" r="2.20" fill="#5b9a8b" fill-opacity="0.5"/>
<circle cx="55.1" cy="437.1" r="2.20" fill="#5b9a8b" fill-opacity="0.5"/>
<circle cx="60.0" cy="437.1" r="4.60" fill="#5b9a8b" fill-opacity="0.5"/>
<circle cx="65.0" cy="437.1" r="2.20" fill="#5b9a8b" fill-opacity="0.5"/>
<circle cx="84.7" cy="437.1" r="2.20" fill="#5b9a8b" fill-opacity="0.5"/>
<circle cx="89.6" cy="437.1" r="4.60" fill="#5b9a8b" fill-opacity="0.5"/>
<circle cx="99.4" cy="437.1" r="2.20" fill="#5b9a8b" fill-opacity="0.5"/>
<circle cx="109.3" cy="437.1" r="2.20" fill="#5b9a8b" fill-opacity="0.5"/>
<circle cx="119.1" cy="437.1" r="2.20" fill="#5b9a8b" fill-opacity="0.5"/>
<circle cx="124.0" cy="437.1" r="2.20" fill="#5b9a8b" fill-opacity="0.5"/>
<circle cx="138.8" cy="437.1" r="4.60" fill="#5b9a8b" fill-opacity="0.5"/>
<circle cx="143.7" cy="437.1" r="2.20" fill="#5b9a8b" fill-opacity="0.5"/>
<circle cx="168.3" cy="437.1" r="2.20" fill="#5b9a8b" fill-opacity="0.5"/>
<circle cx="173.3" cy="437.1" r="2.20" fill="#5b9a8b" fill-opacity="0.5"/>
<circle cx="183.1" cy="437.1" r="4.60" fill="#5b9a8b" fill-opacity="0.5"/>
<circle cx="188.0" cy="437.1" r="2.20" fill="#5b9a8b" fill-opacity="0.5"/>
<circle cx="193.0" cy="437.1" r="2.20" fill="#5b9a8b" fill-opacity="0.5"/>
<circle cx="212.7" cy="437.1" r="2.20" fill="#5b9a8b" fill-opacity="0.5"/>
<circle cx="222.5" cy="437.1" r="2.20" fill="#5b9a8b" fill-opacity="0.5"/>
<circle cx="45.3" cy="442.5" r="2.20" fill="#5b9a8b" fill-opacity="0.5"/>
<circle cx="55.1" cy="442.5" r="4.60" fill="#5b9a8b" fill-opacity="0.5"/>
<circle cx="60.0" cy="442.5" r="2.20" fill="#5b9a8b" fill-opacity="0.5"/>
<circle cx="65.0" cy="442.5" r="2.20" fill="#5b9a8b" fill-opacity="0.5"/>
<circle cx="69.9" cy="442.5" r="4.60" fill="#5b9a8b" fill-opacity="0.5"/>
<circle cx="74.8" cy="442.5" r="2.20" fill="#5b9a8b" fill-opacity="0.5"/>
<circle cx="84.7" cy="442.5" r="4.60" fill="#5b9a8b" fill-opacity="0.5"/>
<circle cx="89.6" cy="442.5" r="2.20" fill="#5b9a8b" fill-opacity="0.5"/>
<circle cx="99.4" cy="442.5" r="2.20" fill="#5b9a8b" fill-opacity="0.5"/>
<circle cx="104.3" cy="442.5" r="4.60" fill="#5b9a8b" fill-opacity="0.5"/>
<circle cx="124.0" cy="442.5" r="4.60" fill="#5b9a8b" fill-opacity="0.5"/>
<circle cx="133.9" cy="442.5" r="2.20" fill="#5b9a8b" fill-opacity="0.5"/>
<circle cx="173.3" cy="442.5" r="2.20" fill="#5b9a8b" fill-opacity="0.5"/>
<circle cx="188.0" cy="442.5" r="4.60" fill="#5b9a8b" fill-opacity="0.5"/>
<circle cx="197.9" cy="442.5" r="4.60" fill="#5b9a8b" fill-opacity="0.5"/>
<circle cx="202.8" cy="442.5" r="2.20" fill="#5b9a8b" fill-opacity="0.5"/>
<circle cx="217.6" cy="442.5" r="2.20" fill="#5b9a8b" fill-opacity="0.5"/>
<circle cx="232.3" cy="442.5" r="2.20" fill="#5b9a8b" fill-opacity="0.5"/>
<circle cx="45.3" cy="448.0" r="5.80" fill="#5b9a8b" fill-opacity="0.5"/>
<circle cx="50.2" cy="448.0" r="4.60" fill="#5b9a8b" fill-opacity="0.5"/>
<circle cx="55.1" cy="448.0" r="4.60" fill="#5b9a8b" fill-opacity="0.5"/>
<circle cx="60.0" cy="448.0" r="2.20" fill="#5b9a8b" fill-opacity="0.5"/>
<circle cx="69.9" cy="448.0" r="2.20" fill="#5b9a8b" fill-opacity="0.5"/>
<circle cx="74.8" cy="448.0" r="4.60" fill="#5b9a8b" fill-opacity="0.5"/>
<circle cx="109.3" cy="448.0" r="2.20" fill="#5b9a8b" fill-opacity="0.5"/>
<circle cx="119.1" cy="448.0" r="2.20" fill="#5b9a8b" fill-opacity="0.5"/>
<circle cx="124.0" cy="448.0" r="2.20" fill="#5b9a8b" fill-opacity="0.5"/>
<circle cx="129.0" cy="448.0" r="2.20" fill="#5b9a8b" fill-opacity="0.5"/>
<circle cx="138.8" cy="448.0" r="2.20" fill="#5b9a8b" fill-opacity="0.5"/>
<circle cx="168.3" cy="448.0" r="4.60" fill="#5b9a8b" fill-opacity="0.5"/>
<circle cx="173.3" cy="448.0" r="2.20" fill="#5b9a8b" fill-opacity="0.5"/>
<circle cx="178.2" cy="448.0" r="4.60" fill="#5b9a8b" fill-opacity="0.5"/>
<circle cx="183.1" cy="448.0" r="4.60" fill="#5b9a8b" fill-opacity="0.5"/>
<circle cx="197.9" cy="448.0" r="2.20" fill="#5b9a8b" fill-opacity="0.5"/>
<circle cx="207.7" cy="448.0" r="2.20" fill="#5b9a8b" fill-opacity="0.5"/>
<circle cx="227.4" cy="448.0" r="2.20" fill="#5b9a8b" fill-opacity="0.5"/>
<circle cx="232.3" cy="448.0" r="2.20" fill="#5b9a8b" fill-opacity="0.5"/>
<circle cx="45.3" cy="453.4" r="5.80" fill="#5b9a8b" fill-opacity="0.5"/>
<circle cx="50.2" cy="453.4" r="4.60" fill="#5b9a8b" fill-opacity="0.5"/>
<circle cx="55.1" cy="453.4" r="4.60" fill="#5b9a8b" fill-opacity="0.5"/>
<circle cx="60.0" cy="453.4" r="2.20" fill="#5b9a8b" fill-opacity="0.5"/>
<circle cx="65.0" cy="453.4" r="2.20" fill="#5b9a8b" fill-opacity="0.5"/>
<circle cx="69.9" cy="453.4" r="2.20" fill="#5b9a8b" fill-opacity="0.5"/>
<circle cx="109.3" cy="453.4" r="2.20" fill="#5b9a8b" fill-opacity="0.5"/>
<circle cx="119.1" cy="453.4" r="2.20" fill="#5b9a8b" fill-opacity="0.5"/>
<circle cx="138.8" cy="453.4" r="2.20" fill="#5b9a8b" fill-opacity="0.5"/>
<circle cx="148.7" cy="453.4" r="2.20" fill="#5b9a8b" fill-opacity="0.5"/>
<circle cx="153.6" cy="453.4" r="2.20" fill="#5b9a8b" fill-opacity="0.5"/>
<circle cx="173.3" cy="453.4" r="2.20" fill="#5b9a8b" fill-opacity="0.5"/>
<circle cx="178.2" cy="453.4" r="4.60" fill="#5b9a8b" fill-opacity="0.5"/>
<circle cx="183.1" cy="453.4" r="2.20" fill="#5b9a8b" fill-opacity="0.5"/>
<circle cx="188.0" cy="453.4" r="4.60" fill="#5b9a8b" fill-opacity="0.5"/>
<circle cx="202.8" cy="453.4" r="4.60" fill="#5b9a8b" fill-opacity="0.5"/>
<circle cx="207.7" cy="453.4" r="2.20" fill="#5b9a8b" fill-opacity="0.5"/>
<circle cx="212.7" cy="453.4" r="2.20" fill="#5b9a8b" fill-opacity="0.5"/>
<circle cx="237.3" cy="453.4" r="2.20" fill="#5b9a8b" fill-opacity="0.5"/>
<circle cx="45.3" cy="458.9" r="4.60" fill="#5b9a8b" fill-opacity="0.5"/>
<circle cx="50.2" cy="458.9" r="2.20" fill="#5b9a8b" fill-opacity="0.5"/>
<circle cx="60.0" cy="458.9" r="2.20" fill="#5b9a8b" fill-opacity="0.5"/>
<circle cx="69.9" cy="458.9" r="2.20" fill="#5b9a8b" fill-opacity="0.5"/>
<circle cx="99.4" cy="458.9" r="4.60" fill="#5b9a8b" fill-opacity="0.5"/>
<circle cx="104.3" cy="458.9" r="4.60" fill="#5b9a8b" fill-opacity="0.5"/>
<circle cx="124.0" cy="458.9" r="4.60" fill="#5b9a8b" fill-opacity="0.5"/>
<circle cx="148.7" cy="458.9" r="2.20" fill="#5b9a8b" fill-opacity="0.5"/>
<circle cx="158.5" cy="458.9" r="2.20" fill="#5b9a8b" fill-opacity="0.5"/>
<circle cx="173.3" cy="458.9" r="2.20" fill="#5b9a8b" fill-opacity="0.5"/>
<circle cx="178.2" cy="458.9" r="2.20" fill="#5b9a8b" fill-opacity="0.5"/>
<circle cx="193.0" cy="458.9" r="2.20" fill="#5b9a8b" fill-opacity="0.5"/>
<circle cx="202.8" cy="458.9" r="2.20" fill="#5b9a8b" fill-opacity="0.5"/>
<circle cx="212.7" cy="458.9" r="2.20" fill="#5b9a8b" fill-opacity="0.5"/>
<circle cx="227.4" cy="458.9" r="2.20" fill="#5b9a8b" fill-opacity="0.5"/>
<circle cx="237.3" cy="458.9" r="2.20" fill="#5b9a8b" fill-opacity="0.5"/>
<circle cx="55.1" cy="464.3" r="4.60" fill="#5b9a8b" fill-opacity="0.5"/>
<circle cx="60.0" cy="464.3" r="2.20" fill="#5b9a8b" fill-opacity="0.5"/>
<circle cx="65.0" cy="464.3" r="2.20" fill="#5b9a8b" fill-opacity="0.5"/>
<circle cx="94.5" cy="464.3" r="2.20" fill="#5b9a8b" fill-opacity="0.5"/>
<circle cx="99.4" cy="464.3" r="2.20" fill="#5b9a8b" fill-opacity="0.5"/>
<circle cx="104.3" cy="464.3" r="2.20" fill="#5b9a8b" fill-opacity="0.5"/>
<circle cx="148.7" cy="464.3" r="2.20" fill="#5b9a8b" fill-opacity="0.5"/>
<circle cx="202.8" cy="464.3" r="4.60" fill="#5b9a8b" fill-opacity="0.5"/>
<circle cx="217.6" cy="464.3" r="2.20" fill="#5b9a8b" fill-opacity="0.5"/>
<circle cx="222.5" cy="464.3" r="2.20" fill="#5b9a8b" fill-opacity="0.5"/>
<circle cx="227.4" cy="464.3" r="2.20" fill="#5b9a8b" fill-opacity="0.5"/>
<circle cx="237.3" cy="464.3" r="2.20" fill="#5b9a8b" fill-opacity="0.5"/>
<circle cx="45.3" cy="469.7" r="4.60" fill="#5b9a8b" fill-opacity="0.5"/>
<circle cx="50.2" cy="469.7" r="4.60" fill="#5b9a8b" fill-opacity="0.5"/>
<circle cx="55.1" cy="469.7" r="2.20" fill="#5b9a8b" fill-opacity="0.5"/>
<circle cx="65.0" cy="469.7" r="2.20" fill="#5b9a8b" fill-opacity="0.5"/>
<circle cx="69.9" cy="469.7" r="2.20" fill="#5b9a8b" fill-opacity="0.5"/>
<circle cx="94.5" cy="469.7" r="4.60" fill="#5b9a8b" fill-opacity="0.5"/>
<circle cx="99.4" cy="469.7" r="2.20" fill="#5b9a8b" fill-opacity="0.5"/>
<circle cx="138.8" cy="469.7" r="2.20" fill="#5b9a8b" fill-opacity="0.5"/>
<circle cx="143.7" cy="469.7" r="2.20" fill="#5b9a8b" fill-opacity="0.5"/>
<circle cx="163.4" cy="469.7" r="4.60" fill="#5b9a8b" fill-opacity="0.5"/>
<circle cx="173.3" cy="469.7" r="2.20" fill="#5b9a8b" fill-opacity="0.5"/>
<circle cx="178.2" cy="469.7" r="4.60" fill="#5b9a8b" fill-opacity="0.5"/>
<circle cx="197.9" cy="469.7" r="2.20" fill="#5b9a8b" fill-opacity="0.5"/>
<circle cx="222.5" cy="469.7" r="2.20" fill="#5b9a8b" fill-opacity="0.5"/>
<circle cx="50.2" cy="475.2" r="2.20" fill="#5b9a8b" fill-opacity="0.5"/>
<circle cx="55.1" cy="475.2" r="4.60" fill="#5b9a8b" fill-opacity="0.5"/>
<circle cx="60.0" cy="475.2" r="2.20" fill="#5b9a8b" fill-opacity="0.5"/>
<circle cx="74.8" cy="475.2" r="2.20" fill="#5b9a8b" fill-opacity="0.5"/>
<circle cx="84.7" cy="475.2" r="2.20" fill="#5b9a8b" fill-opacity="0.5"/>
<circle cx="89.6" cy="475.2" r="2.20" fill="#5b9a8b" fill-opacity="0.5"/>
<circle cx="94.5" cy="475.2" r="4.60" fill="#5b9a8b" fill-opacity="0.5"/>
<circle cx="99.4" cy="475.2" r="2.20" fill="#5b9a8b" fill-opacity="0.5"/>
<circle cx="168.3" cy="475.2" r="2.20" fill="#5b9a8b" fill-opacity="0.5"/>
<circle cx="173.3" cy="475.2" r="4.60" fill="#5b9a8b" fill-opacity="0.5"/>
<circle cx="193.0" cy="475.2" r="2.20" fill="#5b9a8b" fill-opacity="0.5"/>
<circle cx="197.9" cy="475.2" r="2.20" fill="#5b9a8b" fill-opacity="0.5"/>
<circle cx="212.7" cy="475.2" r="5.80" fill="#5b9a8b" fill-opacity="0.5"/>
<circle cx="227.4" cy="475.2" r="4.60" fill="#5b9a8b" fill-opacity="0.5"/>
<circle cx="55.1" cy="480.6" r="2.20" fill="#5b9a8b" fill-opacity="0.5"/>
<circle cx="65.0" cy="480.6" r="2.20" fill="#5b9a8b" fill-opacity="0.5"/>
<circle cx="69.9" cy="480.6" r="2.20" fill="#5b9a8b" fill-opacity="0.5"/>
<circle cx="109.3" cy="480.6" r="2.20" fill="#5b9a8b" fill-opacity="0.5"/>
<circle cx="158.5" cy="480.6" r="2.20" fill="#5b9a8b" fill-opacity="0.5"/>
<circle cx="163.4" cy="480.6" r="2.20" fill="#5b9a8b" fill-opacity="0.5"/>
<circle cx="178.2" cy="480.6" r="4.60" fill="#5b9a8b" fill-opacity="0.5"/>
<circle cx="183.1" cy="480.6" r="2.20" fill="#5b9a8b" fill-opacity="0.5"/>
<circle cx="193.0" cy="480.6" r="2.20" fill="#5b9a8b" fill-opacity="0.5"/>
<circle cx="202.8" cy="480.6" r="2.20" fill="#5b9a8b" fill-opacity="0.5"/>
<circle cx="217.6" cy="480.6" r="2.20" fill="#5b9a8b" fill-opacity="0.5"/>
<circle cx="55.1" cy="486.1" r="2.20" fill="#5b9a8b" fill-opacity="0.5"/>
<circle cx="69.9" cy="486.1" r="2.20" fill="#5b9a8b" fill-opacity="0.5"/>
<circle cx="104.3" cy="486.1" r="2.20" fill="#5b9a8b" fill-opacity="0.5"/>
<circle cx="148.7" cy="486.1" r="2.20" fill="#5b9a8b" fill-opacity="0.5"/>
<circle cx="178.2" cy="486.1" r="4.60" fill="#5b9a8b" fill-opacity="0.5"/>
<circle cx="197.9" cy="486.1" r="2.20" fill="#5b9a8b" fill-opacity="0.5"/>
<circle cx="212.7" cy="486.1" r="2.20" fill="#5b9a8b" fill-opacity="0.5"/>
<circle cx="55.1" cy="491.5" r="2.20" fill="#5b9a8b" fill-opacity="0.5"/>
<circle cx="60.0" cy="491.5" r="2.20" fill="#5b9a8b" fill-opacity="0.5"/>
<circle cx="84.7" cy="491.5" r="4.60" fill="#5b9a8b" fill-opacity="0.5"/>
<circle cx="114.2" cy="491.5" r="2.20" fill="#5b9a8b" fill-opacity="0.5"/>
<circle cx="119.1" cy="491.5" r="2.20" fill="#5b9a8b" fill-opacity="0.5"/>
<circle cx="153.6" cy="491.5" r="2.20" fill="#5b9a8b" fill-opacity="0.5"/>
<circle cx="168.3" cy="491.5" r="2.20" fill="#5b9a8b" fill-opacity="0.5"/>
<circle cx="178.2" cy="491.5" r="2.20" fill="#5b9a8b" fill-opacity="0.5"/>
<circle cx="193.0" cy="491.5" r="4.60" fill="#5b9a8b" fill-opacity="0.5"/>
<circle cx="207.7" cy="491.5" r="2.20" fill="#5b9a8b" fill-opacity="0.5"/>
<circle cx="212.7" cy="491.5" r="2.20" fill="#5b9a8b" fill-opacity="0.5"/>
<circle cx="222.5" cy="491.5" r="2.20" fill="#5b9a8b" fill-opacity="0.5"/>
<circle cx="45.3" cy="496.9" r="2.20" fill="#5b9a8b" fill-opacity="0.5"/>
<circle cx="50.2" cy="496.9" r="2.20" fill="#5b9a8b" fill-opacity="0.5"/>
<circle cx="60.0" cy="496.9" r="2.20" fill="#5b9a8b" fill-opacity="0.5"/>
<circle cx="65.0" cy="496.9" r="2.20" fill="#5b9a8b" fill-opacity="0.5"/>
<circle cx="114.2" cy="496.9" r="2.20" fill="#5b9a8b" fill-opacity="0.5"/>
<circle cx="129.0" cy="496.9" r="2.20" fill="#5b9a8b" fill-opacity="0.5"/>
<circle cx="153.6" cy="496.9" r="2.20" fill="#5b9a8b" fill-opacity="0.5"/>
<circle cx="163.4" cy="496.9" r="4.60" fill="#5b9a8b" fill-opacity="0.5"/>
<circle cx="173.3" cy="496.9" r="2.20" fill="#5b9a8b" fill-opacity="0.5"/>
<circle cx="178.2" cy="496.9" r="2.20" fill="#5b9a8b" fill-opacity="0.5"/>
<circle cx="202.8" cy="496.9" r="2.20" fill="#5b9a8b" fill-opacity="0.5"/>
<circle cx="212.7" cy="496.9" r="2.20" fill="#5b9a8b" fill-opacity="0.5"/>
<circle cx="217.6" cy="496.9" r="2.20" fill="#5b9a8b" fill-opacity="0.5"/>
<circle cx="222.5" cy="496.9" r="2.20" fill="#5b9a8b" fill-opacity="0.5"/>
<circle cx="45.3" cy="502.4" r="2.20" fill="#5b9a8b" fill-opacity="0.5"/>
<circle cx="65.0" cy="502.4" r="2.20" fill="#5b9a8b" fill-opacity="0.5"/>
<circle cx="89.6" cy="502.4" r="4.60" fill="#5b9a8b" fill-opacity="0.5"/>
<circle cx="119.1" cy="502.4" r="2.20" fill="#5b9a8b" fill-opacity="0.5"/>
<circle cx="129.0" cy="502.4" r="2.20" fill="#5b9a8b" fill-opacity="0.5"/>
<circle cx="158.5" cy="502.4" r="4.60" fill="#5b9a8b" fill-opacity="0.5"/>
<circle cx="178.2" cy="502.4" r="2.20" fill="#5b9a8b" fill-opacity="0.5"/>
<circle cx="183.1" cy="502.4" r="2.20" fill="#5b9a8b" fill-opacity="0.5"/>
<circle cx="227.4" cy="502.4" r="2.20" fill="#5b9a8b" fill-opacity="0.5"/>
<circle cx="232.3" cy="502.4" r="2.20" fill="#5b9a8b" fill-opacity="0.5"/>
<circle cx="237.3" cy="502.4" r="4.60" fill="#5b9a8b" fill-opacity="0.5"/>
<circle cx="69.9" cy="507.8" r="4.60" fill="#5b9a8b" fill-opacity="0.5"/>
<circle cx="89.6" cy="507.8" r="2.20" fill="#5b9a8b" fill-opacity="0.5"/>
<circle cx="94.5" cy="507.8" r="2.20" fill="#5b9a8b" fill-opacity="0.5"/>
<circle cx="114.2" cy="507.8" r="2.20" fill="#5b9a8b" fill-opacity="0.5"/>
<circle cx="124.0" cy="507.8" r="2.20" fill="#5b9a8b" fill-opacity="0.5"/>
<circle cx="153.6" cy="507.8" r="2.20" fill="#5b9a8b" fill-opacity="0.5"/>
<circle cx="173.3" cy="507.8" r="2.20" fill="#5b9a8b" fill-opacity="0.5"/>
<circle cx="178.2" cy="507.8" r="2.20" fill="#5b9a8b" fill-opacity="0.5"/>
<circle cx="183.1" cy="507.8" r="2.20" fill="#5b9a8b" fill-opacity="0.5"/>
<circle cx="188.0" cy="507.8" r="2.20" fill="#5b9a8b" fill-opacity="0.5"/>
<circle cx="193.0" cy="507.8" r="2.20" fill="#5b9a8b" fill-opacity="0.5"/>
<circle cx="207.7" cy="507.8" r="2.20" fill="#5b9a8b" fill-opacity="0.5"/>
<circle cx="227.4" cy="507.8" r="2.20" fill="#5b9a8b" fill-opacity="0.5"/>
<circle cx="55.1" cy="513.3" r="2.20" fill="#5b9a8b" fill-opacity="0.5"/>
<circle cx="69.9" cy="513.3" r="2.20" fill="#5b9a8b" fill-opacity="0.5"/>
<circle cx="74.8" cy="513.3" r="2.20" fill="#5b9a8b" fill-opacity="0.5"/>
<circle cx="89.6" cy="513.3" r="2.20" fill="#5b9a8b" fill-opacity="0.5"/>
<circle cx="104.3" cy="513.3" r="2.20" fill="#5b9a8b" fill-opacity="0.5"/>
<circle cx="202.8" cy="513.3" r="2.20" fill="#5b9a8b" fill-opacity="0.5"/>
<circle cx="212.7" cy="513.3" r="2.20" fill="#5b9a8b" fill-opacity="0.5"/>
<circle cx="217.6" cy="513.3" r="2.20" fill="#5b9a8b" fill-opacity="0.5"/>
<circle cx="60.0" cy="518.7" r="2.20" fill="#5b9a8b" fill-opacity="0.5"/>
<circle cx="84.7" cy="518.7" r="2.20" fill="#5b9a8b" fill-opacity="0.5"/>
<circle cx="217.6" cy="518.7" r="2.20" fill="#5b9a8b" fill-opacity="0.5"/>
<circle cx="55.1" cy="524.1" r="2.20" fill="#5b9a8b" fill-opacity="0.5"/>
<circle cx="89.6" cy="524.1" r="2.20" fill="#5b9a8b" fill-opacity="0.5"/>
<circle cx="168.3" cy="524.1" r="2.20" fill="#5b9a8b" fill-opacity="0.5"/>
<circle cx="178.2" cy="524.1" r="2.20" fill="#5b9a8b" fill-opacity="0.5"/>
<circle cx="197.9" cy="524.1" r="2.20" fill="#5b9a8b" fill-opacity="0.5"/>
<circle cx="202.8" cy="524.1" r="2.20" fill="#5b9a8b" fill-opacity="0.5"/>
<circle cx="212.7" cy="524.1" r="2.20" fill="#5b9a8b" fill-opacity="0.5"/>
<circle cx="217.6" cy="524.1" r="2.20" fill="#5b9a8b" fill-opacity="0.5"/>
<circle cx="60.0" cy="529.6" r="2.20" fill="#5b9a8b" fill-opacity="0.5"/>
<circle cx="104.3" cy="529.6" r="2.20" fill="#5b9a8b" fill-opacity="0.5"/>
<circle cx="173.3" cy="529.6" r="4.60" fill="#5b9a8b" fill-opacity="0.5"/>
<circle cx="183.1" cy="529.6" r="2.20" fill="#5b9a8b" fill-opacity="0.5"/>
<circle cx="109.3" cy="535.0" r="2.20" fill="#5b9a8b" fill-opacity="0.5"/>
<circle cx="158.5" cy="535.0" r="2.20" fill="#5b9a8b" fill-opacity="0.5"/>
<circle cx="188.0" cy="535.0" r="2.20" fill="#5b9a8b" fill-opacity="0.5"/>
<circle cx="207.7" cy="535.0" r="2.20" fill="#5b9a8b" fill-opacity="0.5"/>
<circle cx="237.3" cy="535.0" r="2.20" fill="#5b9a8b" fill-opacity="0.5"/>
<circle cx="55.1" cy="540.5" r="2.20" fill="#5b9a8b" fill-opacity="0.5"/>
<circle cx="60.0" cy="540.5" r="4.60" fill="#5b9a8b" fill-opacity="0.5"/>
<circle cx="227.4" cy="540.5" r="4.60" fill="#5b9a8b" fill-opacity="0.5"/>
<circle cx="55.1" cy="545.9" r="4.60" fill="#5b9a8b" fill-opacity="0.5"/>
<circle cx="202.8" cy="551.3" r="2.20" fill="#5b9a8b" fill-opacity="0.5"/>
<circle cx="222.5" cy="551.3" r="2.20" fill="#5b9a8b" fill-opacity="0.5"/>
<circle cx="50.2" cy="556.8" r="2.20" fill="#5b9a8b" fill-opacity="0.5"/>
<circle cx="69.9" cy="556.8" r="2.20" fill="#5b9a8b" fill-opacity="0.5"/>
<circle cx="138.8" cy="556.8" r="4.60" fill="#5b9a8b" fill-opacity="0.5"/>
<circle cx="138.8" cy="567.7" r="2.20" fill="#5b9a8b" fill-opacity="0.5"/>
<circle cx="55.1" cy="573.1" r="2.20" fill="#5b9a8b" fill-opacity="0.5"/>
<circle cx="74.8" cy="573.1" r="2.20" fill="#5b9a8b" fill-opacity="0.5"/>
<circle cx="84.7" cy="578.6" r="2.20" fill="#5b9a8b" fill-opacity="0.5"/>
<circle cx="217.6" cy="578.6" r="2.20" fill="#5b9a8b" fill-opacity="0.5"/>
<circle cx="79.7" cy="584.0" r="2.20" fill="#5b9a8b" fill-opacity="0.5"/>
<circle cx="109.3" cy="584.0" r="2.20" fill="#5b9a8b" fill-opacity="0.5"/>
<circle cx="60.0" cy="611.2" r="2.20" fill="#5b9a8b" fill-opacity="0.5"/>
<circle cx="89.6" cy="616.6" r="2.20" fill="#5b9a8b" fill-opacity="0.5"/>
<circle cx="55.1" cy="622.1" r="2.20" fill="#5b9a8b" fill-opacity="0.5"/>
<circle cx="104.3" cy="638.4" r="2.20" fill="#5b9a8b" fill-opacity="0.5"/>
<circle cx="84.7" cy="649.3" r="2.20" fill="#5b9a8b" fill-opacity="0.5"/>
<circle cx="45.3" cy="671.0" r="2.20" fill="#5b9a8b" fill-opacity="0.5"/>
<path d="M45.3,451.2 Q138.8,459.4 237.3,458.9 L237.3,473.5 Q138.8,462.9 45.3,462.1Z" fill="#5b9a8b" fill-opacity="0.42"/>
<line x1="45.3" y1="456.4" x2="237.3" y2="466.2" stroke="#5b9a8b" stroke-width="2.8"/>
</g>
<text x="241.87" y="659.70" text-anchor="end" font-size="11.7" fill="#000"><tspan font-style="italic">r</tspan> = -0.14</text>
<text x="241.87" y="680.90" text-anchor="end" font-size="11.7" fill="#000"><tspan font-style="italic">P</tspan> = 0.002</text>
<rect x="35.77" y="402.40" width="211.00" height="281.10" fill="none" stroke="#333" stroke-width="1.4"/>
<line x1="40.35" x2="40.35" y1="684.20" y2="687.40" stroke="#333" stroke-width="1.4"/>
<text x="40.35" y="697.80" text-anchor="middle" font-size="11" fill="#4d4d4d">0</text>
<line x1="89.58" x2="89.58" y1="684.20" y2="687.40" stroke="#333" stroke-width="1.4"/>
<text x="89.58" y="697.80" text-anchor="middle" font-size="11" fill="#4d4d4d">10</text>
<line x1="138.81" x2="138.81" y1="684.20" y2="687.40" stroke="#333" stroke-width="1.4"/>
<text x="138.81" y="697.80" text-anchor="middle" font-size="11" fill="#4d4d4d">20</text>
<line x1="188.04" x2="188.04" y1="684.20" y2="687.40" stroke="#333" stroke-width="1.4"/>
<text x="188.04" y="697.80" text-anchor="middle" font-size="11" fill="#4d4d4d">30</text>
<line x1="237.27" x2="237.27" y1="684.20" y2="687.40" stroke="#333" stroke-width="1.4"/>
<text x="237.27" y="697.80" text-anchor="middle" font-size="11" fill="#4d4d4d">40</text>
<line x1="31.87" x2="35.07" y1="632.96" y2="632.96" stroke="#333" stroke-width="1.4"/>
<text x="29.57" y="636.91" text-anchor="end" font-size="11" fill="#4d4d4d">50</text>
<line x1="31.87" x2="35.07" y1="578.55" y2="578.55" stroke="#333" stroke-width="1.4"/>
<text x="29.57" y="582.50" text-anchor="end" font-size="11" fill="#4d4d4d">60</text>
<line x1="31.87" x2="35.07" y1="524.14" y2="524.14" stroke="#333" stroke-width="1.4"/>
<text x="29.57" y="528.10" text-anchor="end" font-size="11" fill="#4d4d4d">70</text>
<line x1="31.87" x2="35.07" y1="469.74" y2="469.74" stroke="#333" stroke-width="1.4"/>
<text x="29.57" y="473.69" text-anchor="end" font-size="11" fill="#4d4d4d">80</text>
<line x1="31.87" x2="35.07" y1="415.33" y2="415.33" stroke="#333" stroke-width="1.4"/>
<text x="29.57" y="419.28" text-anchor="end" font-size="11" fill="#4d4d4d">90</text>
<rect x="253.70" y="381.75" width="211.00" height="20.65" fill="#d9d9d9" stroke="#333" stroke-width="1.4"/>
<text x="359.20" y="396.10" text-anchor="middle" font-size="12.1" fill="#1a1a1a">S2: OBT-early/Brainstem-early</text>
<rect x="253.70" y="402.40" width="211.00" height="281.10" fill="#fff"/>
<line x1="258.28" x2="258.28" y1="402.40" y2="683.50" stroke="#ebebeb" stroke-width="1.4"/>
<line x1="307.51" x2="307.51" y1="402.40" y2="683.50" stroke="#ebebeb" stroke-width="1.4"/>
<line x1="356.74" x2="356.74" y1="402.40" y2="683.50" stroke="#ebebeb" stroke-width="1.4"/>
<line x1="405.97" x2="405.97" y1="402.40" y2="683.50" stroke="#ebebeb" stroke-width="1.4"/>
<line x1="455.20" x2="455.20" y1="402.40" y2="683.50" stroke="#ebebeb" stroke-width="1.4"/>
<line x1="253.70" x2="464.70" y1="632.96" y2="632.96" stroke="#ebebeb" stroke-width="1.4"/>
<line x1="253.70" x2="464.70" y1="578.55" y2="578.55" stroke="#ebebeb" stroke-width="1.4"/>
<line x1="253.70" x2="464.70" y1="524.14" y2="524.14" stroke="#ebebeb" stroke-width="1.4"/>
<line x1="253.70" x2="464.70" y1="469.74" y2="469.74" stroke="#ebebeb" stroke-width="1.4"/>
<line x1="253.70" x2="464.70" y1="415.33" y2="415.33" stroke="#ebebeb" stroke-width="1.4"/>
<g clip-path="url(#cb1)">
<circle cx="278.0" cy="415.3" r="5.80" fill="#d3dac5" fill-opacity="0.8"/>
<circle cx="282.9" cy="415.3" r="4.60" fill="#d3dac5" fill-opacity="0.8"/>
<circle cx="292.7" cy="415.3" r="5.80" fill="#d3dac5" fill-opacity="0.8"/>
<circle cx="297.7" cy="415.3" r="4.60" fill="#d3dac5" fill-opacity="0.8"/>
<circle cx="302.6" cy="415.3" r="2.20" fill="#d3dac5" fill-opacity="0.8"/>
<circle cx="307.5" cy="415.3" r="5.80" fill="#d3dac5" fill-opacity="0.8"/>
<circle cx="317.4" cy="415.3" r="4.60" fill="#d3dac5" fill-opacity="0.8"/>
<circle cx="322.3" cy="415.3" r="4.60" fill="#d3dac5" fill-opacity="0.8"/>
<circle cx="327.2" cy="415.3" r="5.80" fill="#d3dac5" fill-opacity="0.8"/>
<circle cx="332.1" cy="415.3" r="6.80" fill="#d3dac5" fill-opacity="0.8"/>
<circle cx="346.9" cy="415.3" r="5.80" fill="#d3dac5" fill-opacity="0.8"/>
<circle cx="351.8" cy="415.3" r="2.20" fill="#d3dac5" fill-opacity="0.8"/>
<circle cx="361.7" cy="415.3" r="5.80" fill="#d3dac5" fill-opacity="0.8"/>
<circle cx="366.6" cy="415.3" r="2.20" fill="#d3dac5" fill-opacity="0.8"/>
<circle cx="386.3" cy="415.3" r="2.20" fill="#d3dac5" fill-opacity="0.8"/>
<circle cx="410.9" cy="415.3" r="2.20" fill="#d3dac5" fill-opacity="0.8"/>
<circle cx="425.7" cy="415.3" r="2.20" fill="#d3dac5" fill-opacity="0.8"/>
<circle cx="278.0" cy="420.8" r="2.20" fill="#d3dac5" fill-opacity="0.8"/>
<circle cx="282.9" cy="420.8" r="2.20" fill="#d3dac5" fill-opacity="0.8"/>
<circle cx="302.6" cy="420.8" r="2.20" fill="#d3dac5" fill-opacity="0.8"/>
<circle cx="371.5" cy="420.8" r="2.20" fill="#d3dac5" fill-opacity="0.8"/>
<circle cx="386.3" cy="420.8" r="2.20" fill="#d3dac5" fill-opacity="0.8"/>
<circle cx="425.7" cy="420.8" r="2.20" fill="#d3dac5" fill-opacity="0.8"/>
<circle cx="282.9" cy="426.2" r="2.20" fill="#d3dac5" fill-opacity="0.8"/>
<circle cx="312.4" cy="426.2" r="2.20" fill="#d3dac5" fill-opacity="0.8"/>
<circle cx="317.4" cy="426.2" r="4.60" fill="#d3dac5" fill-opacity="0.8"/>
<circle cx="332.1" cy="426.2" r="2.20" fill="#d3dac5" fill-opacity="0.8"/>
<circle cx="366.6" cy="426.2" r="2.20" fill="#d3dac5" fill-opacity="0.8"/>
<circle cx="381.4" cy="426.2" r="2.20" fill="#d3dac5" fill-opacity="0.8"/>
<circle cx="278.0" cy="431.7" r="2.20" fill="#d3dac5" fill-opacity="0.8"/>
<circle cx="317.4" cy="431.7" r="2.20" fill="#d3dac5" fill-opacity="0.8"/>
<circle cx="342.0" cy="431.7" r="4.60" fill="#d3dac5" fill-opacity="0.8"/>
<circle cx="351.8" cy="431.7" r="2.20" fill="#d3dac5" fill-opacity="0.8"/>
<circle cx="356.7" cy="431.7" r="2.20" fill="#d3dac5" fill-opacity="0.8"/>
<circle cx="386.3" cy="431.7" r="2.20" fill="#d3dac5" fill-opacity="0.8"/>
<circle cx="391.2" cy="431.7" r="2.20" fill="#d3dac5" fill-opacity="0.8"/>
<circle cx="307.5" cy="437.1" r="2.20" fill="#d3dac5" fill-opacity="0.8"/>
<circle cx="312.4" cy="437.1" r="4.60" fill="#d3dac5" fill-opacity="0.8"/>
<circle cx="332.1" cy="437.1" r="2.20" fill="#d3dac5" fill-opacity="0.8"/>
<circle cx="366.6" cy="437.1" r="2.20" fill="#d3dac5" fill-opacity="0.8"/>
<circle cx="420.7" cy="437.1" r="2.20" fill="#d3dac5" fill-opacity="0.8"/>
<circle cx="430.6" cy="437.1" r="2.20" fill="#d3dac5" fill-opacity="0.8"/>
<circle cx="287.8" cy="442.5" r="2.20" fill="#d3dac5" fill-opacity="0.8"/>
<circle cx="312.4" cy="442.5" r="2.20" fill="#d3dac5" fill-opacity="0.8"/>
<circle cx="346.9" cy="442.5" r="2.20" fill="#d3dac5" fill-opacity="0.8"/>
<circle cx="366.6" cy="442.5" r="2.20" fill="#d3dac5" fill-opacity="0.8"/>
<circle cx="371.5" cy="442.5" r="2.20" fill="#d3dac5" fill-opacity="0.8"/>
<circle cx="425.7" cy="442.5" r="2.20" fill="#d3dac5" fill-opacity="0.8"/>
<circle cx="278.0" cy="448.0" r="4.60" fill="#d3dac5" fill-opacity="0.8"/>
<circle cx="282.9" cy="448.0" r="4.60" fill="#d3dac5" fill-opacity="0.8"/>
<circle cx="287.8" cy="448.0" r="2.20" fill="#d3dac5" fill-opacity="0.8"/>
<circle cx="307.5" cy="448.0" r="2.20" fill="#d3dac5" fill-opacity="0.8"/>
<circle cx="337.0" cy="448.0" r="2.20" fill="#d3dac5" fill-opacity="0.8"/>
<circle cx="410.9" cy="448.0" r="2.20" fill="#d3dac5" fill-opacity="0.8"/>
<circle cx="425.7" cy="448.0" r="2.20" fill="#d3dac5" fill-opacity="0.8"/>
<circle cx="282.9" cy="453.4" r="2.20" fill="#d3dac5" fill-opacity="0.8"/>
<circle cx="342.0" cy="453.4" r="4.60" fill="#d3dac5" fill-opacity="0.8"/>
<circle cx="346.9" cy="453.4" r="2.20" fill="#d3dac5" fill-opacity="0.8"/>
<circle cx="410.9" cy="453.4" r="2.20" fill="#d3dac5" fill-opacity="0.8"/>
<circle cx="287.8" cy="458.9" r="2.20" fill="#d3dac5" fill-opacity="0.8"/>
<circle cx="346.9" cy="458.9" r="2.20" fill="#d3dac5" fill-opacity="0.8"/>
<circle cx="361.7" cy="458.9" r="2.20" fill="#d3dac5" fill-opacity="0.8"/>
<circle cx="366.6" cy="458.9" r="4.60" fill="#d3dac5" fill-opacity="0.8"/>
<circle cx="391.2" cy="458.9" r="2.20" fill="#d3dac5" fill-opacity="0.8"/>
<circle cx="406.0" cy="458.9" r="2.20" fill="#d3dac5" fill-opacity="0.8"/>
<circle cx="425.7" cy="458.9" r="2.20" fill="#d3dac5" fill-opacity="0.8"/>
<circle cx="430.6" cy="458.9" r="4.60" fill="#d3dac5" fill-opacity="0.8"/>
<circle cx="307.5" cy="464.3" r="2.20" fill="#d3dac5" fill-opacity="0.8"/>
<circle cx="327.2" cy="464.3" r="2.20" fill="#d3dac5" fill-opacity="0.8"/>
<circle cx="361.7" cy="464.3" r="2.20" fill="#d3dac5" fill-opacity="0.8"/>
<circle cx="366.6" cy="464.3" r="2.20" fill="#d3dac5" fill-opacity="0.8"/>
<circle cx="406.0" cy="464.3" r="2.20" fill="#d3dac5" fill-opacity="0.8"/>
<circle cx="415.8" cy="464.3" r="2.20" fill="#d3dac5" fill-opacity="0.8"/>
<circle cx="307.5" cy="469.7" r="2.20" fill="#d3dac5" fill-opacity="0.8"/>
<circle cx="317.4" cy="469.7" r="2.20" fill="#d3dac5" fill-opacity="0.8"/>
<circle cx="332.1" cy="469.7" r="5.80" fill="#d3dac5" fill-opacity="0.8"/>
<circle cx="351.8" cy="469.7" r="2.20" fill="#d3dac5" fill-opacity="0.8"/>
<circle cx="366.6" cy="469.7" r="2.20" fill="#d3dac5" fill-opacity="0.8"/>
<circle cx="410.9" cy="469.7" r="4.60" fill="#d3dac5" fill-opacity="0.8"/>
<circle cx="297.7" cy="475.2" r="2.20" fill="#d3dac5" fill-opacity="0.8"/>
<circle cx="322.3" cy="475.2" r="2.20" fill="#d3dac5" fill-opacity="0.8"/>
<circle cx="361.7" cy="475.2" r="2.20" fill="#d3dac5" fill-opacity="0.8"/>
<circle cx="366.6" cy="475.2" r="2.20" fill="#d3dac5" fill-opacity="0.8"/>
<circle cx="386.3" cy="475.2" r="2.20" fill="#d3dac5" fill-opacity="0.8"/>
<circle cx="425.7" cy="475.2" r="5.80" fill="#d3dac5" fill-opacity="0.8"/>
<circle cx="282.9" cy="480.6" r="2.20" fill="#d3dac5" fill-opacity="0.8"/>
<circle cx="292.7" cy="480.6" r="2.20" fill="#d3dac5" fill-opacity="0.8"/>
<circle cx="366.6" cy="480.6" r="4.60" fill="#d3dac5" fill-opacity="0.8"/>
<circle cx="415.8" cy="480.6" r="2.20" fill="#d3dac5" fill-opacity="0.8"/>
<circle cx="430.6" cy="480.6" r="2.20" fill="#d3dac5" fill-opacity="0.8"/>
<circle cx="278.0" cy="486.1" r="2.20" fill="#d3dac5" fill-opacity="0.8"/>
<circle cx="287.8" cy="486.1" r="2.20" fill="#d3dac5" fill-opacity="0.8"/>
<circle cx="351.8" cy="486.1" r="2.20" fill="#d3dac5" fill-opacity="0.8"/>
<circle cx="371.5" cy="486.1" r="4.60" fill="#d3dac5" fill-opacity="0.8"/>
<circle cx="386.3" cy="486.1" r="2.20" fill="#d3dac5" fill-opacity="0.8"/>
<circle cx="391.2" cy="486.1" r="2.20" fill="#d3dac5" fill-opacity="0.8"/>
<circle cx="410.9" cy="486.1" r="2.20" fill="#d3dac5" fill-opacity="0.8"/>
<circle cx="425.7" cy="486.1" r="2.20" fill="#d3dac5" fill-opacity="0.8"/>
<circle cx="322.3" cy="491.5" r="2.20" fill="#d3dac5" fill-opacity="0.8"/>
<circle cx="346.9" cy="491.5" r="2.20" fill="#d3dac5" fill-opacity="0.8"/>
<circle cx="391.2" cy="491.5" r="2.20" fill="#d3dac5" fill-opacity="0.8"/>
<circle cx="396.1" cy="491.5" r="2.20" fill="#d3dac5" fill-opacity="0.8"/>
<circle cx="430.6" cy="491.5" r="2.20" fill="#d3dac5" fill-opacity="0.8"/>
<circle cx="332.1" cy="496.9" r="2.20" fill="#d3dac5" fill-opacity="0.8"/>
<circle cx="356.7" cy="496.9" r="2.20" fill="#d3dac5" fill-opacity="0.8"/>
<circle cx="430.6" cy="496.9" r="2.20" fill="#d3dac5" fill-opacity="0.8"/>
<circle cx="351.8" cy="502.4" r="2.20" fill="#d3dac5" fill-opacity="0.8"/>
<circle cx="361.7" cy="502.4" r="2.20" fill="#d3dac5" fill-opacity="0.8"/>
<circle cx="346.9" cy="507.8" r="2.20" fill="#d3dac5" fill-opacity="0.8"/>
<circle cx="366.6" cy="507.8" r="2.20" fill="#d3dac5" fill-opacity="0.8"/>
<circle cx="391.2" cy="507.8" r="2.20" fill="#d3dac5" fill-opacity="0.8"/>
<circle cx="346.9" cy="513.3" r="2.20" fill="#d3dac5" fill-opacity="0.8"/>
<circle cx="361.7" cy="513.3" r="2.20" fill="#d3dac5" fill-opacity="0.8"/>
<circle cx="425.7" cy="513.3" r="2.20" fill="#d3dac5" fill-opacity="0.8"/>
<circle cx="273.0" cy="518.7" r="2.20" fill="#d3dac5" fill-opacity="0.8"/>
<circle cx="342.0" cy="518.7" r="2.20" fill="#d3dac5" fill-opacity="0.8"/>
<circle cx="317.4" cy="524.1" r="2.20" fill="#d3dac5" fill-opacity="0.8"/>
<circle cx="410.9" cy="524.1" r="2.20" fill="#d3dac5" fill-opacity="0.8"/>
<circle cx="366.6" cy="529.6" r="2.20" fill="#d3dac5" fill-opacity="0.8"/>
<circle cx="401.0" cy="529.6" r="2.20" fill="#d3dac5" fill-opacity="0.8"/>
<circle cx="297.7" cy="535.0" r="2.20" fill="#d3dac5" fill-opacity="0.8"/>
<circle cx="366.6" cy="535.0" r="2.20" fill="#d3dac5" fill-opacity="0.8"/>
<circle cx="425.7" cy="535.0" r="2.20" fill="#d3dac5" fill-opacity="0.8"/>
<circle cx="371.5" cy="540.5" r="2.20" fill="#d3dac5" fill-opacity="0.8"/>
<circle cx="415.8" cy="545.9" r="2.20" fill="#d3dac5" fill-opacity="0.8"/>
<circle cx="282.9" cy="551.3" r="2.20" fill="#d3dac5" fill-opacity="0.8"/>
<circle cx="361.7" cy="562.2" r="2.20" fill="#d3dac5" fill-opacity="0.8"/>
<circle cx="278.0" cy="573.1" r="2.20" fill="#d3dac5" fill-opacity="0.8"/>
<circle cx="302.6" cy="578.6" r="2.20" fill="#d3dac5" fill-opacity="0.8"/>
<path d="M273.0,432.7 Q351.8,458.6 430.6,462.7 L430.6,482.8 Q351.8,459.3 273.0,454.8Z" fill="#d3dac5" fill-opacity="0.46"/>
<line x1="273.0" y1="443.9" x2="430.6" y2="473.0" stroke="#d3dac5" stroke-width="2.8"/>
</g>
<text x="459.80" y="659.70" text-anchor="end" font-size="11.7" fill="#000"><tspan font-style="italic">r</tspan> = -0.30</text>
<text x="459.80" y="680.90" text-anchor="end" font-size="11.7" fill="#000"><tspan font-style="italic">P</tspan> &lt; 0.001</text>
<rect x="253.70" y="402.40" width="211.00" height="281.10" fill="none" stroke="#333" stroke-width="1.4"/>
<line x1="258.28" x2="258.28" y1="684.20" y2="687.40" stroke="#333" stroke-width="1.4"/>
<text x="258.28" y="697.80" text-anchor="middle" font-size="11" fill="#4d4d4d">0</text>
<line x1="307.51" x2="307.51" y1="684.20" y2="687.40" stroke="#333" stroke-width="1.4"/>
<text x="307.51" y="697.80" text-anchor="middle" font-size="11" fill="#4d4d4d">10</text>
<line x1="356.74" x2="356.74" y1="684.20" y2="687.40" stroke="#333" stroke-width="1.4"/>
<text x="356.74" y="697.80" text-anchor="middle" font-size="11" fill="#4d4d4d">20</text>
<line x1="405.97" x2="405.97" y1="684.20" y2="687.40" stroke="#333" stroke-width="1.4"/>
<text x="405.97" y="697.80" text-anchor="middle" font-size="11" fill="#4d4d4d">30</text>
<line x1="455.20" x2="455.20" y1="684.20" y2="687.40" stroke="#333" stroke-width="1.4"/>
<text x="455.20" y="697.80" text-anchor="middle" font-size="11" fill="#4d4d4d">40</text>
<rect x="471.45" y="381.75" width="211.00" height="20.65" fill="#d9d9d9" stroke="#333" stroke-width="1.4"/>
<text x="576.95" y="396.10" text-anchor="middle" font-size="12.1" fill="#1a1a1a">S3: Brainstem-early/OBT-later</text>
<rect x="471.45" y="402.40" width="211.00" height="281.10" fill="#fff"/>
<line x1="476.03" x2="476.03" y1="402.40" y2="683.50" stroke="#ebebeb" stroke-width="1.4"/>
<line x1="525.26" x2="525.26" y1="402.40" y2="683.50" stroke="#ebebeb" stroke-width="1.4"/>
<line x1="574.49" x2="574.49" y1="402.40" y2="683.50" stroke="#ebebeb" stroke-width="1.4"/>
<line x1="623.72" x2="623.72" y1="402.40" y2="683.50" stroke="#ebebeb" stroke-width="1.4"/>
<line x1="672.95" x2="672.95" y1="402.40" y2="683.50" stroke="#ebebeb" stroke-width="1.4"/>
<line x1="471.45" x2="682.45" y1="632.96" y2="632.96" stroke="#ebebeb" stroke-width="1.4"/>
<line x1="471.45" x2="682.45" y1="578.55" y2="578.55" stroke="#ebebeb" stroke-width="1.4"/>
<line x1="471.45" x2="682.45" y1="524.14" y2="524.14" stroke="#ebebeb" stroke-width="1.4"/>
<line x1="471.45" x2="682.45" y1="469.74" y2="469.74" stroke="#ebebeb" stroke-width="1.4"/>
<line x1="471.45" x2="682.45" y1="415.33" y2="415.33" stroke="#ebebeb" stroke-width="1.4"/>
<g clip-path="url(#cb2)">
<circle cx="481.0" cy="415.3" r="6.80" fill="#e07566" fill-opacity="0.5"/>
<circle cx="490.8" cy="415.3" r="5.80" fill="#e07566" fill-opacity="0.5"/>
<circle cx="495.7" cy="415.3" r="4.60" fill="#e07566" fill-opacity="0.5"/>
<circle cx="500.6" cy="415.3" r="4.60" fill="#e07566" fill-opacity="0.5"/>
<circle cx="505.6" cy="415.3" r="2.20" fill="#e07566" fill-opacity="0.5"/>
<circle cx="515.4" cy="415.3" r="2.20" fill="#e07566" fill-opacity="0.5"/>
<circle cx="520.3" cy="415.3" r="2.20" fill="#e07566" fill-opacity="0.5"/>
<circle cx="535.1" cy="415.3" r="2.20" fill="#e07566" fill-opacity="0.5"/>
<circle cx="559.7" cy="415.3" r="4.60" fill="#e07566" fill-opacity="0.5"/>
<circle cx="579.4" cy="415.3" r="2.20" fill="#e07566" fill-opacity="0.5"/>
<circle cx="584.3" cy="415.3" r="2.20" fill="#e07566" fill-opacity="0.5"/>
<circle cx="613.9" cy="415.3" r="2.20" fill="#e07566" fill-opacity="0.5"/>
<circle cx="618.8" cy="415.3" r="2.20" fill="#e07566" fill-opacity="0.5"/>
<circle cx="623.7" cy="415.3" r="2.20" fill="#e07566" fill-opacity="0.5"/>
<circle cx="643.4" cy="415.3" r="5.80" fill="#e07566" fill-opacity="0.5"/>
<circle cx="648.3" cy="415.3" r="4.60" fill="#e07566" fill-opacity="0.5"/>
<circle cx="495.7" cy="420.8" r="2.20" fill="#e07566" fill-opacity="0.5"/>
<circle cx="584.3" cy="420.8" r="2.20" fill="#e07566" fill-opacity="0.5"/>
<circle cx="481.0" cy="426.2" r="2.20" fill="#e07566" fill-opacity="0.5"/>
<circle cx="505.6" cy="426.2" r="2.20" fill="#e07566" fill-opacity="0.5"/>
<circle cx="535.1" cy="426.2" r="4.60" fill="#e07566" fill-opacity="0.5"/>
<circle cx="648.3" cy="426.2" r="2.20" fill="#e07566" fill-opacity="0.5"/>
<circle cx="481.0" cy="431.7" r="2.20" fill="#e07566" fill-opacity="0.5"/>
<circle cx="520.3" cy="431.7" r="4.60" fill="#e07566" fill-opacity="0.5"/>
<circle cx="574.5" cy="431.7" r="2.20" fill="#e07566" fill-opacity="0.5"/>
<circle cx="579.4" cy="431.7" r="2.20" fill="#e07566" fill-opacity="0.5"/>
<circle cx="584.3" cy="431.7" r="2.20" fill="#e07566" fill-opacity="0.5"/>
<circle cx="643.4" cy="431.7" r="2.20" fill="#e07566" fill-opacity="0.5"/>
<circle cx="481.0" cy="437.1" r="4.60" fill="#e07566" fill-opacity="0.5"/>
<circle cx="490.8" cy="437.1" r="2.20" fill="#e07566" fill-opacity="0.5"/>
<circle cx="569.6" cy="437.1" r="2.20" fill="#e07566" fill-opacity="0.5"/>
<circle cx="579.4" cy="437.1" r="2.20" fill="#e07566" fill-opacity="0.5"/>
<circle cx="589.3" cy="437.1" r="2.20" fill="#e07566" fill-opacity="0.5"/>
<circle cx="638.5" cy="437.1" r="2.20" fill="#e07566" fill-opacity="0.5"/>
<circle cx="481.0" cy="442.5" r="2.20" fill="#e07566" fill-opacity="0.5"/>
<circle cx="520.3" cy="442.5" r="2.20" fill="#e07566" fill-opacity="0.5"/>
<circle cx="569.6" cy="442.5" r="2.20" fill="#e07566" fill-opacity="0.5"/>
<circle cx="574.5" cy="442.5" r="2.20" fill="#e07566" fill-opacity="0.5"/>
<circle cx="589.3" cy="442.5" r="2.20" fill="#e07566" fill-opacity="0.5"/>
<circle cx="604.0" cy="442.5" r="2.20" fill="#e07566" fill-opacity="0.5"/>
<circle cx="609.0" cy="442.5" r="2.20" fill="#e07566" fill-opacity="0.5"/>
<circle cx="613.9" cy="442.5" r="2.20" fill="#e07566" fill-opacity="0.5"/>
<circle cx="490.8" cy="448.0" r="2.20" fill="#e07566" fill-opacity="0.5"/>
<circle cx="530.2" cy="448.0" r="2.20" fill="#e07566" fill-opacity="0.5"/>
<circle cx="540.0" cy="448.0" r="2.20" fill="#e07566" fill-opacity="0.5"/>
<circle cx="579.4" cy="448.0" r="2.20" fill="#e07566" fill-opacity="0.5"/>
<circle cx="643.4" cy="448.0" r="2.20" fill="#e07566" fill-opacity="0.5"/>
<circle cx="515.4" cy="453.4" r="2.20" fill="#e07566" fill-opacity="0.5"/>
<circle cx="520.3" cy="453.4" r="4.60" fill="#e07566" fill-opacity="0.5"/>
<circle cx="525.3" cy="453.4" r="2.20" fill="#e07566" fill-opacity="0.5"/>
<circle cx="530.2" cy="453.4" r="2.20" fill="#e07566" fill-opacity="0.5"/>
<circle cx="559.7" cy="453.4" r="2.20" fill="#e07566" fill-opacity="0.5"/>
<circle cx="569.6" cy="453.4" r="2.20" fill="#e07566" fill-opacity="0.5"/>
<circle cx="579.4" cy="453.4" r="4.60" fill="#e07566" fill-opacity="0.5"/>
<circle cx="618.8" cy="453.4" r="2.20" fill="#e07566" fill-opacity="0.5"/>
<circle cx="559.7" cy="458.9" r="2.20" fill="#e07566" fill-opacity="0.5"/>
<circle cx="569.6" cy="458.9" r="2.20" fill="#e07566" fill-opacity="0.5"/>
<circle cx="574.5" cy="458.9" r="2.20" fill="#e07566" fill-opacity="0.5"/>
<circle cx="579.4" cy="458.9" r="2.20" fill="#e07566" fill-opacity="0.5"/>
<circle cx="599.1" cy="458.9" r="2.20" fill="#e07566" fill-opacity="0.5"/>
<circle cx="604.0" cy="458.9" r="2.20" fill="#e07566" fill-opacity="0.5"/>
<circle cx="623.7" cy="458.9" r="2.20" fill="#e07566" fill-opacity="0.5"/>
<circle cx="510.5" cy="464.3" r="2.20" fill="#e07566" fill-opacity="0.5"/>
<circle cx="520.3" cy="464.3" r="2.20" fill="#e07566" fill-opacity="0.5"/>
<circle cx="569.6" cy="464.3" r="4.60" fill="#e07566" fill-opacity="0.5"/>
<circle cx="599.1" cy="464.3" r="2.20" fill="#e07566" fill-opacity="0.5"/>
<circle cx="613.9" cy="464.3" r="2.20" fill="#e07566" fill-opacity="0.5"/>
<circle cx="485.9" cy="469.7" r="2.20" fill="#e07566" fill-opacity="0.5"/>
<circle cx="579.4" cy="469.7" r="2.20" fill="#e07566" fill-opacity="0.5"/>
<circle cx="594.2" cy="469.7" r="2.20" fill="#e07566" fill-opacity="0.5"/>
<circle cx="613.9" cy="469.7" r="2.20" fill="#e07566" fill-opacity="0.5"/>
<circle cx="628.6" cy="469.7" r="2.20" fill="#e07566" fill-opacity="0.5"/>
<circle cx="569.6" cy="475.2" r="4.60" fill="#e07566" fill-opacity="0.5"/>
<circle cx="584.3" cy="475.2" r="2.20" fill="#e07566" fill-opacity="0.5"/>
<circle cx="599.1" cy="475.2" r="4.60" fill="#e07566" fill-opacity="0.5"/>
<circle cx="604.0" cy="475.2" r="2.20" fill="#e07566" fill-opacity="0.5"/>
<circle cx="500.6" cy="480.6" r="2.20" fill="#e07566" fill-opacity="0.5"/>
<circle cx="579.4" cy="480.6" r="2.20" fill="#e07566" fill-opacity="0.5"/>
<circle cx="599.1" cy="480.6" r="2.20" fill="#e07566" fill-opacity="0.5"/>
<circle cx="515.4" cy="486.1" r="2.20" fill="#e07566" fill-opacity="0.5"/>
<circle cx="540.0" cy="486.1" r="2.20" fill="#e07566" fill-opacity="0.5"/>
<circle cx="549.9" cy="486.1" r="2.20" fill="#e07566" fill-opacity="0.5"/>
<circle cx="643.4" cy="486.1" r="2.20" fill="#e07566" fill-opacity="0.5"/>
<circle cx="481.0" cy="491.5" r="2.20" fill="#e07566" fill-opacity="0.5"/>
<circle cx="549.9" cy="491.5" r="2.20" fill="#e07566" fill-opacity="0.5"/>
<circle cx="564.6" cy="491.5" r="2.20" fill="#e07566" fill-opacity="0.5"/>
<circle cx="648.3" cy="491.5" r="2.20" fill="#e07566" fill-opacity="0.5"/>
<circle cx="540.0" cy="496.9" r="2.20" fill="#e07566" fill-opacity="0.5"/>
<circle cx="564.6" cy="496.9" r="2.20" fill="#e07566" fill-opacity="0.5"/>
<circle cx="584.3" cy="496.9" r="2.20" fill="#e07566" fill-opacity="0.5"/>
<circle cx="613.9" cy="496.9" r="2.20" fill="#e07566" fill-opacity="0.5"/>
<circle cx="643.4" cy="496.9" r="4.60" fill="#e07566" fill-opacity="0.5"/>
<circle cx="510.5" cy="507.8" r="2.20" fill="#e07566" fill-opacity="0.5"/>
<circle cx="569.6" cy="507.8" r="2.20" fill="#e07566" fill-opacity="0.5"/>
<circle cx="574.5" cy="507.8" r="2.20" fill="#e07566" fill-opacity="0.5"/>
<circle cx="599.1" cy="507.8" r="2.20" fill="#e07566" fill-opacity="0.5"/>
<circle cx="490.8" cy="513.3" r="2.20" fill="#e07566" fill-opacity="0.5"/>
<circle cx="530.2" cy="513.3" r="2.20" fill="#e07566" fill-opacity="0.5"/>
<circle cx="535.1" cy="513.3" r="2.20" fill="#e07566" fill-opacity="0.5"/>
<circle cx="564.6" cy="513.3" r="2.20" fill="#e07566" fill-opacity="0.5"/>
<circle cx="569.6" cy="513.3" r="2.20" fill="#e07566" fill-opacity="0.5"/>
<circle cx="599.1" cy="513.3" r="2.20" fill="#e07566" fill-opacity="0.5"/>
<circle cx="525.3" cy="518.7" r="2.20" fill="#e07566" fill-opacity="0.5"/>
<circle cx="490.8" cy="524.1" r="2.20" fill="#e07566" fill-opacity="0.5"/>
<circle cx="569.6" cy="524.1" r="4.60" fill="#e07566" fill-opacity="0.5"/>
<circle cx="584.3" cy="529.6" r="2.20" fill="#e07566" fill-opacity="0.5"/>
<circle cx="604.0" cy="529.6" r="2.20" fill="#e07566" fill-opacity="0.5"/>
<circle cx="609.0" cy="529.6" r="2.20" fill="#e07566" fill-opacity="0.5"/>
<circle cx="613.9" cy="529.6" r="2.20" fill="#e07566" fill-opacity="0.5"/>
<circle cx="530.2" cy="556.8" r="2.20" fill="#e07566" fill-opacity="0.5"/>
<circle cx="579.4" cy="556.8" r="2.20" fill="#e07566" fill-opacity="0.5"/>
<circle cx="584.3" cy="556.8" r="2.20" fill="#e07566" fill-opacity="0.5"/>
<circle cx="643.4" cy="562.2" r="2.20" fill="#e07566" fill-opacity="0.5"/>
<circle cx="594.2" cy="573.1" r="2.20" fill="#e07566" fill-opacity="0.5"/>
<circle cx="490.8" cy="589.4" r="2.20" fill="#e07566" fill-opacity="0.5"/>
<circle cx="481.0" cy="605.8" r="2.20" fill="#e07566" fill-opacity="0.5"/>
<path d="M481.0,440.9 Q564.6,461.0 648.3,457.2 L648.3,484.4 Q564.6,465.1 481.0,466.5Z" fill="#e07566" fill-opacity="0.5"/>
<line x1="481.0" y1="453.4" x2="648.3" y2="470.8" stroke="#e07566" stroke-width="2.8"/>
</g>
<text x="677.55" y="659.70" text-anchor="end" font-size="11.7" fill="#000"><tspan font-style="italic">r</tspan> = -0.18</text>
<text x="677.55" y="680.90" text-anchor="end" font-size="11.7" fill="#000"><tspan font-style="italic">P</tspan> = 0.030</text>
<rect x="471.45" y="402.40" width="211.00" height="281.10" fill="none" stroke="#333" stroke-width="1.4"/>
<line x1="476.03" x2="476.03" y1="684.20" y2="687.40" stroke="#333" stroke-width="1.4"/>
<text x="476.03" y="697.80" text-anchor="middle" font-size="11" fill="#4d4d4d">0</text>
<line x1="525.26" x2="525.26" y1="684.20" y2="687.40" stroke="#333" stroke-width="1.4"/>
<text x="525.26" y="697.80" text-anchor="middle" font-size="11" fill="#4d4d4d">10</text>
<line x1="574.49" x2="574.49" y1="684.20" y2="687.40" stroke="#333" stroke-width="1.4"/>
<text x="574.49" y="697.80" text-anchor="middle" font-size="11" fill="#4d4d4d">20</text>
<line x1="623.72" x2="623.72" y1="684.20" y2="687.40" stroke="#333" stroke-width="1.4"/>
<text x="623.72" y="697.80" text-anchor="middle" font-size="11" fill="#4d4d4d">30</text>
<line x1="672.95" x2="672.95" y1="684.20" y2="687.40" stroke="#333" stroke-width="1.4"/>
<text x="672.95" y="697.80" text-anchor="middle" font-size="11" fill="#4d4d4d">40</text>
<text x="359.20" y="712.90" text-anchor="middle" font-size="13.3" fill="#000">SuStaIn stage</text>
<text transform="translate(11.17,542.95) rotate(-90)" text-anchor="middle" font-size="13.3" fill="#000">Age at death (years)</text>
<text x="8.0" y="12.0" font-size="14" font-weight="bold" fill="#000">A</text>
<text x="8.4" y="380.8" font-size="14" font-weight="bold" fill="#000">B</text>
</svg>
</body></html>
